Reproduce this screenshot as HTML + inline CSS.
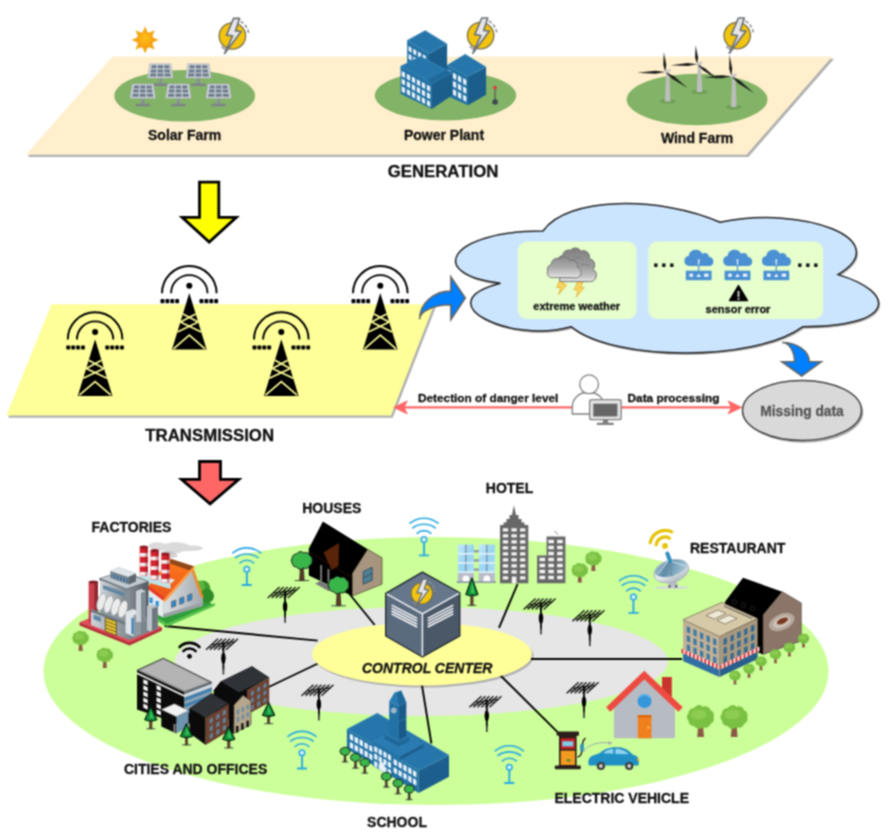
<!DOCTYPE html>
<html lang="en">
<head>
<meta charset="utf-8">
<title>Smart grid overview</title>
<style>
html,body{margin:0;padding:0;background:#fff;}
body{width:893px;height:839px;overflow:hidden;}
svg{display:block;}
svg text{font-family:"Liberation Sans",sans-serif;font-weight:bold;fill:#111;stroke:#111;stroke-width:0.3px;stroke-linejoin:round;}
</style>
</head>
<body>
<svg width="893" height="839" viewBox="0 0 893 839">
<defs><filter id="soft" x="0" y="0" width="893" height="839" filterUnits="userSpaceOnUse" color-interpolation-filters="sRGB"><feConvolveMatrix order="3" kernelMatrix="1 2 1 2 4 2 1 2 1" divisor="16" edgeMode="duplicate" preserveAlpha="false"/></filter></defs>
<g filter="url(#soft)">
<rect x="0" y="0" width="893" height="839" fill="#fff"/>
<defs><linearGradient id="glass" x1="0" y1="0" x2="1" y2="1"><stop offset="0" stop-color="#c9ecfb" stop-opacity="0.9"/><stop offset="0.5" stop-color="#8fcff0" stop-opacity="0.6"/><stop offset="1" stop-color="#bfe6f8" stop-opacity="0.9"/></linearGradient></defs>
<g id="generation">
<defs><radialGradient id="sung" cx="50%" cy="40%" r="60%"><stop offset="0" stop-color="#ffc21a"/><stop offset="1" stop-color="#f79a0c"/></radialGradient></defs>
<polygon points="114.3,58.7 834.1,58.7 748.4,156.9 27.7,156.9" fill="#b0b0b0"/>
<polygon points="112.5,56.5 832.3,56.5 746.6,154.7 25.9,154.7" fill="#ffefcc"/>
<ellipse cx="184.7" cy="95.8" rx="70.4" ry="25.8" fill="#82b366"/>
<ellipse cx="445.5" cy="95.6" rx="70.7" ry="24.8" fill="#82b366"/>
<ellipse cx="697.1" cy="99.5" rx="70.4" ry="25.7" fill="#82b366"/>
<g>
<rect x="158.8" y="77.1" width="3.2" height="7.2" fill="#8b9096"/>
<rect x="153.1" y="83.5" width="14.6" height="2.6" fill="#7d8289" rx="1"/>
<polygon points="149.8,63.7 171,63.7 173.2,78.1 147.6,78.1" fill="#ced2d7" stroke="#a9adb3" stroke-width="0.6" stroke-linejoin="round"/>
<polygon points="151.7,65.3 156.7,65.3 156.5,68.3 151.2,68.3" fill="#6a7b8c"/>
<polygon points="157.9,65.3 162.9,65.3 163.1,68.3 157.7,68.3" fill="#6a7b8c"/>
<polygon points="164.1,65.3 169.1,65.3 169.6,68.3 164.3,68.3" fill="#6a7b8c"/>
<polygon points="151,69.4 156.5,69.4 156.3,72.4 150.6,72.4" fill="#6a7b8c"/>
<polygon points="157.7,69.4 163.1,69.4 163.3,72.4 157.5,72.4" fill="#6a7b8c"/>
<polygon points="164.3,69.4 169.8,69.4 170.2,72.4 164.5,72.4" fill="#6a7b8c"/>
<polygon points="150.4,73.5 156.3,73.5 156.1,76.5 149.9,76.5" fill="#6a7b8c"/>
<polygon points="157.5,73.5 163.3,73.5 163.5,76.5 157.3,76.5" fill="#6a7b8c"/>
<polygon points="164.5,73.5 170.4,73.5 170.9,76.5 164.7,76.5" fill="#6a7b8c"/>
</g>
<g>
<rect x="196.8" y="77.1" width="3.2" height="7.2" fill="#8b9096"/>
<rect x="191.1" y="83.5" width="14.6" height="2.6" fill="#7d8289" rx="1"/>
<polygon points="187.8,63.7 209,63.7 211.2,78.1 185.6,78.1" fill="#ced2d7" stroke="#a9adb3" stroke-width="0.6" stroke-linejoin="round"/>
<polygon points="189.7,65.3 194.7,65.3 194.5,68.3 189.2,68.3" fill="#6a7b8c"/>
<polygon points="195.9,65.3 200.9,65.3 201.1,68.3 195.7,68.3" fill="#6a7b8c"/>
<polygon points="202.1,65.3 207.1,65.3 207.6,68.3 202.3,68.3" fill="#6a7b8c"/>
<polygon points="189,69.4 194.5,69.4 194.3,72.4 188.6,72.4" fill="#6a7b8c"/>
<polygon points="195.7,69.4 201.1,69.4 201.3,72.4 195.5,72.4" fill="#6a7b8c"/>
<polygon points="202.3,69.4 207.8,69.4 208.2,72.4 202.5,72.4" fill="#6a7b8c"/>
<polygon points="188.4,73.5 194.3,73.5 194.1,76.5 187.9,76.5" fill="#6a7b8c"/>
<polygon points="195.5,73.5 201.3,73.5 201.5,76.5 195.3,76.5" fill="#6a7b8c"/>
<polygon points="202.5,73.5 208.4,73.5 208.9,76.5 202.7,76.5" fill="#6a7b8c"/>
</g>
<g>
<rect x="141.2" y="97.3" width="3.2" height="7.2" fill="#8b9096"/>
<rect x="135.5" y="103.7" width="14.6" height="2.6" fill="#7d8289" rx="1"/>
<polygon points="132.2,83.9 153.4,83.9 155.6,98.3 130,98.3" fill="#ced2d7" stroke="#a9adb3" stroke-width="0.6" stroke-linejoin="round"/>
<polygon points="134.1,85.5 139.1,85.5 138.9,88.5 133.6,88.5" fill="#6a7b8c"/>
<polygon points="140.3,85.5 145.3,85.5 145.5,88.5 140.1,88.5" fill="#6a7b8c"/>
<polygon points="146.5,85.5 151.5,85.5 152,88.5 146.7,88.5" fill="#6a7b8c"/>
<polygon points="133.4,89.6 138.9,89.6 138.7,92.6 133,92.6" fill="#6a7b8c"/>
<polygon points="140.1,89.6 145.5,89.6 145.7,92.6 139.9,92.6" fill="#6a7b8c"/>
<polygon points="146.7,89.6 152.2,89.6 152.6,92.6 146.9,92.6" fill="#6a7b8c"/>
<polygon points="132.8,93.7 138.7,93.7 138.5,96.7 132.3,96.7" fill="#6a7b8c"/>
<polygon points="139.9,93.7 145.7,93.7 145.9,96.7 139.7,96.7" fill="#6a7b8c"/>
<polygon points="146.9,93.7 152.8,93.7 153.3,96.7 147.1,96.7" fill="#6a7b8c"/>
</g>
<g>
<rect x="176.8" y="97.3" width="3.2" height="7.2" fill="#8b9096"/>
<rect x="171.1" y="103.7" width="14.6" height="2.6" fill="#7d8289" rx="1"/>
<polygon points="167.8,83.9 189,83.9 191.2,98.3 165.6,98.3" fill="#ced2d7" stroke="#a9adb3" stroke-width="0.6" stroke-linejoin="round"/>
<polygon points="169.7,85.5 174.7,85.5 174.5,88.5 169.2,88.5" fill="#6a7b8c"/>
<polygon points="175.9,85.5 180.9,85.5 181.1,88.5 175.7,88.5" fill="#6a7b8c"/>
<polygon points="182.1,85.5 187.1,85.5 187.6,88.5 182.3,88.5" fill="#6a7b8c"/>
<polygon points="169,89.6 174.5,89.6 174.3,92.6 168.6,92.6" fill="#6a7b8c"/>
<polygon points="175.7,89.6 181.1,89.6 181.3,92.6 175.5,92.6" fill="#6a7b8c"/>
<polygon points="182.3,89.6 187.8,89.6 188.2,92.6 182.5,92.6" fill="#6a7b8c"/>
<polygon points="168.4,93.7 174.3,93.7 174.1,96.7 167.9,96.7" fill="#6a7b8c"/>
<polygon points="175.5,93.7 181.3,93.7 181.5,96.7 175.3,96.7" fill="#6a7b8c"/>
<polygon points="182.5,93.7 188.4,93.7 188.9,96.7 182.7,96.7" fill="#6a7b8c"/>
</g>
<g>
<rect x="217" y="97.3" width="3.2" height="7.2" fill="#8b9096"/>
<rect x="211.3" y="103.7" width="14.6" height="2.6" fill="#7d8289" rx="1"/>
<polygon points="208,83.9 229.2,83.9 231.4,98.3 205.8,98.3" fill="#ced2d7" stroke="#a9adb3" stroke-width="0.6" stroke-linejoin="round"/>
<polygon points="209.9,85.5 214.9,85.5 214.7,88.5 209.4,88.5" fill="#6a7b8c"/>
<polygon points="216.1,85.5 221.1,85.5 221.3,88.5 215.9,88.5" fill="#6a7b8c"/>
<polygon points="222.3,85.5 227.3,85.5 227.8,88.5 222.5,88.5" fill="#6a7b8c"/>
<polygon points="209.2,89.6 214.7,89.6 214.5,92.6 208.8,92.6" fill="#6a7b8c"/>
<polygon points="215.9,89.6 221.3,89.6 221.5,92.6 215.7,92.6" fill="#6a7b8c"/>
<polygon points="222.5,89.6 228,89.6 228.4,92.6 222.7,92.6" fill="#6a7b8c"/>
<polygon points="208.6,93.7 214.5,93.7 214.3,96.7 208.1,96.7" fill="#6a7b8c"/>
<polygon points="215.7,93.7 221.5,93.7 221.7,96.7 215.5,96.7" fill="#6a7b8c"/>
<polygon points="222.7,93.7 228.6,93.7 229.1,96.7 222.9,96.7" fill="#6a7b8c"/>
</g>
<g>
<polygon points="145.1,26.3 148,32.9 154.7,30.3 152.1,37 158.7,39.9 152.1,42.8 154.7,49.5 148,46.9 145.1,53.5 142.2,46.9 135.5,49.5 138.1,42.8 131.5,39.9 138.1,37 135.5,30.3 142.2,32.9" fill="#f1a91c"/>
<circle cx="145.1" cy="39.9" r="8.2" fill="url(#sung)"/>
</g>
<g>
<circle cx="232.4" cy="36" r="13.2" fill="#f2c40f" stroke="#77704a" stroke-width="1.3"/>
<path d="M240.7 21.5 A15.6 15.6 0 0 1 248.7 34.6" fill="none" stroke="#8d9399" stroke-width="1.7" stroke-dasharray="3.4 2"/>
<path d="M221.5 46.7 L226.6 50.7" fill="none" stroke="#8d9399" stroke-width="1.5"/>
<polygon points="233.6,18.4 239.5,18.4 235.5,30.9 241.2,31.5 224.6,53.6 232.7,35.9 226.5,35.1" fill="#e6e6e6" stroke="#6d7175" stroke-width="1.7" stroke-linejoin="round"/>
</g>
<g>
<polygon points="407.1,40.5 429,53.4 429,83.4 407.1,70.5" fill="#2372a5"/>
<polygon points="429,53.4 447.1,43.9 447.1,73.9 429,83.4" fill="#1b5e8c"/>
<polygon points="407.1,40.5 425.2,30.6 447.1,43.9 429,53.4" fill="#2776ab" stroke="#3a86b8" stroke-width="0.5" stroke-linejoin="round"/>
<polygon points="408.5,45.9 411.6,47.8 411.6,52.8 408.5,50.9" fill="#e8f1f8"/>
<polygon points="413.2,48.7 416.4,50.6 416.4,55.6 413.2,53.7" fill="#e8f1f8"/>
<polygon points="418,51.5 421.1,53.3 421.1,58.3 418,56.5" fill="#e8f1f8"/>
<polygon points="422.7,54.3 425.8,56.1 425.8,61.1 422.7,59.3" fill="#e8f1f8"/>
<polygon points="408.5,53.7 411.6,55.6 411.6,60.6 408.5,58.7" fill="#e8f1f8"/>
<polygon points="413.2,56.5 416.4,58.4 416.4,63.4 413.2,61.5" fill="#e8f1f8"/>
<polygon points="418,59.3 421.1,61.1 421.1,66.1 418,64.3" fill="#e8f1f8"/>
<polygon points="422.7,62.1 425.8,63.9 425.8,68.9 422.7,67.1" fill="#e8f1f8"/>
<polygon points="447,65.2 468,76.6 468,105.2 447,95.7" fill="#2372a5"/>
<polygon points="468,76.6 486.1,67.1 486.1,94.7 468,105.2" fill="#1b5e8c"/>
<polygon points="447,65.2 465.2,54.2 486.1,67.1 468,76.6" fill="#2776ab" stroke="#3a86b8" stroke-width="0.5" stroke-linejoin="round"/>
<polygon points="447.6,69.7 451,71.6 451,77.2 447.6,75.3" fill="#e8f1f8"/>
<polygon points="452.8,72.5 456.2,74.4 456.2,80 452.8,78.1" fill="#e8f1f8"/>
<polygon points="457.9,75.3 461.3,77.2 461.3,82.8 457.9,80.9" fill="#e8f1f8"/>
<polygon points="463.1,78.1 466.4,80 466.4,85.6 463.1,83.7" fill="#e8f1f8"/>
<polygon points="447.6,77.9 451,79.8 451,85.4 447.6,83.5" fill="#e8f1f8"/>
<polygon points="452.8,80.7 456.2,82.6 456.2,88.2 452.8,86.3" fill="#e8f1f8"/>
<polygon points="457.9,83.5 461.3,85.4 461.3,91 457.9,89.1" fill="#e8f1f8"/>
<polygon points="463.1,86.3 466.4,88.2 466.4,93.8 463.1,91.9" fill="#e8f1f8"/>
<polygon points="447.6,86.1 451,88 451,93.6 447.6,91.7" fill="#e8f1f8"/>
<polygon points="452.8,88.9 456.2,90.8 456.2,96.4 452.8,94.5" fill="#e8f1f8"/>
<polygon points="457.9,91.7 461.3,93.6 461.3,99.2 457.9,97.3" fill="#e8f1f8"/>
<polygon points="463.1,94.5 466.4,96.4 466.4,102 463.1,100.1" fill="#e8f1f8"/>
<polygon points="400.5,66.5 431.9,83.6 431.9,109 400.5,93.8" fill="#2372a5"/>
<polygon points="431.9,83.6 452.5,73 452.5,95 431.9,109" fill="#1b5e8c"/>
<polygon points="400.5,66.5 420.4,56.6 452.5,73 431.9,83.6" fill="#2776ab" stroke="#3a86b8" stroke-width="0.5" stroke-linejoin="round"/>
<polygon points="420.4,56.6 446,70 427.5,79.6 400.5,66.5" fill="#2776ab" stroke="#3a86b8" stroke-width="0.5" stroke-linejoin="round"/>
<polygon points="427.5,79.6 446,70 452.5,73 431.9,83.6" fill="#206a9b"/>
<polygon points="401.7,71 405,72.8 405,78 401.7,76.2" fill="#e8f1f8"/>
<polygon points="406.8,73.7 410.1,75.5 410.1,80.7 406.8,78.9" fill="#e8f1f8"/>
<polygon points="411.8,76.4 415.1,78.2 415.1,83.4 411.8,81.6" fill="#e8f1f8"/>
<polygon points="416.8,79.2 420.1,81 420.1,86.2 416.8,84.4" fill="#e8f1f8"/>
<polygon points="421.8,81.9 425.1,83.7 425.1,88.9 421.8,87.1" fill="#e8f1f8"/>
<polygon points="426.9,84.7 430.2,86.5 430.2,91.7 426.9,89.9" fill="#e8f1f8"/>
<polygon points="401.7,78.6 405,80.4 405,85.6 401.7,83.8" fill="#e8f1f8"/>
<polygon points="406.8,81.3 410.1,83.1 410.1,88.3 406.8,86.5" fill="#e8f1f8"/>
<polygon points="411.8,84 415.1,85.8 415.1,91 411.8,89.2" fill="#e8f1f8"/>
<polygon points="416.8,86.8 420.1,88.6 420.1,93.8 416.8,92" fill="#e8f1f8"/>
<polygon points="421.8,89.5 425.1,91.3 425.1,96.5 421.8,94.7" fill="#e8f1f8"/>
<polygon points="426.9,92.3 430.2,94.1 430.2,99.3 426.9,97.5" fill="#e8f1f8"/>
<polygon points="401.7,86.2 405,88 405,93.2 401.7,91.4" fill="#e8f1f8"/>
<polygon points="406.8,88.9 410.1,90.7 410.1,95.9 406.8,94.1" fill="#e8f1f8"/>
<polygon points="411.8,91.6 415.1,93.4 415.1,98.6 411.8,96.8" fill="#e8f1f8"/>
<polygon points="416.8,94.4 420.1,96.2 420.1,101.4 416.8,99.6" fill="#e8f1f8"/>
<polygon points="421.8,97.1 425.1,98.9 425.1,104.1 421.8,102.3" fill="#e8f1f8"/>
<polygon points="426.9,99.9 430.2,101.7 430.2,106.9 426.9,105.1" fill="#e8f1f8"/>
<rect x="494.5" y="88" width="1.2" height="13" fill="#555"/>
<circle cx="495.1" cy="87.6" r="1.8" fill="#e8323c"/>
<circle cx="495.1" cy="102" r="2.8" fill="#3d4650"/>
</g>
<g>
<circle cx="480.6" cy="35.6" r="13.2" fill="#f2c40f" stroke="#77704a" stroke-width="1.3"/>
<path d="M488.9 21.1 A15.6 15.6 0 0 1 496.9 34.2" fill="none" stroke="#8d9399" stroke-width="1.7" stroke-dasharray="3.4 2"/>
<path d="M469.7 46.3 L474.8 50.3" fill="none" stroke="#8d9399" stroke-width="1.5"/>
<polygon points="481.8,18 487.7,18 483.7,30.5 489.4,31.1 472.8,53.2 480.9,35.5 474.7,34.7" fill="#e6e6e6" stroke="#6d7175" stroke-width="1.7" stroke-linejoin="round"/>
</g>
<g>
<ellipse cx="699.5" cy="91.9" rx="8" ry="2.4" fill="#6f9f58"/>
<polygon points="698,64.3 701,64.3 702.3,91.9 696.7,91.9" fill="#bdbdbd"/>
<polygon points="697.1,64.3 698.1,57.5 695.6,45.2 695.1,57.7" fill="#1c1c1c"/>
<polygon points="697.1,64.3 687.7,63.1 670.4,65.2 687.8,66.1" fill="#1c1c1c"/>
<polygon points="697.1,64.3 703.5,70.8 718,79.5 705.3,68.4" fill="#1c1c1c"/>
<polygon points="696.1,62.8 702.1,61.3 702.6,63.3 696.6,65.8" fill="#c9c9c9"/>
</g>
<g>
<ellipse cx="667.7" cy="101.4" rx="8" ry="2.4" fill="#6f9f58"/>
<polygon points="666.2,71.9 669.2,71.9 670.5,101.4 664.9,101.4" fill="#bdbdbd"/>
<polygon points="665.3,71.9 666.3,64.8 663.8,51.9 663.3,65" fill="#1c1c1c"/>
<polygon points="665.3,71.9 655.4,70.7 637.1,72.8 655.5,73.7" fill="#1c1c1c"/>
<polygon points="665.3,71.9 672.2,78.8 687.6,88 674,76.3" fill="#1c1c1c"/>
<polygon points="664.3,70.4 670.3,68.9 670.8,70.9 664.8,73.4" fill="#c9c9c9"/>
</g>
<g>
<ellipse cx="733.8" cy="107.1" rx="8" ry="2.4" fill="#6f9f58"/>
<polygon points="732.3,76.2 735.3,76.2 736.6,107.1 731,107.1" fill="#bdbdbd"/>
<polygon points="731.4,76.2 732.2,68.5 729.5,54.7 729.2,68.8" fill="#1c1c1c"/>
<polygon points="731.4,76.2 721.7,75.2 703.8,77.6 721.8,78.2" fill="#1c1c1c"/>
<polygon points="731.4,76.2 738.5,83.4 754.2,93.2 740.3,80.9" fill="#1c1c1c"/>
<polygon points="730.4,74.7 736.4,73.2 736.9,75.2 730.9,77.7" fill="#c9c9c9"/>
</g>
<g>
<circle cx="737.2" cy="35.6" r="13.2" fill="#f2c40f" stroke="#77704a" stroke-width="1.3"/>
<path d="M745.5 21.1 A15.6 15.6 0 0 1 753.5 34.2" fill="none" stroke="#8d9399" stroke-width="1.7" stroke-dasharray="3.4 2"/>
<path d="M726.3 46.3 L731.4 50.3" fill="none" stroke="#8d9399" stroke-width="1.5"/>
<polygon points="738.4,18 744.3,18 740.3,30.5 746,31.1 729.4,53.2 737.5,35.5 731.3,34.7" fill="#e6e6e6" stroke="#6d7175" stroke-width="1.7" stroke-linejoin="round"/>
</g>
<text x="184.6" y="140.4" font-size="14" text-anchor="middle">Solar Farm</text>
<text x="444" y="140.4" font-size="14" text-anchor="middle">Power Plant</text>
<text x="697" y="142.8" font-size="14" text-anchor="middle">Wind Farm</text>
<text x="443" y="176.6" font-size="16.8" text-anchor="middle">GENERATION</text>
</g>
<g id="transmission">
<polygon points="199.5,182.1 218.8,182.1 218.8,217.3 236.3,217.3 209.2,242 182.2,217.3 199.5,217.3" fill="#ffff00" stroke="#000" stroke-width="2.8" stroke-linejoin="miter"/>
<polygon points="53.3,306.5 436.1,306.5 392.8,417.8 8.2,417.8" fill="#b0b0b0"/>
<polygon points="51.5,304.3 434.3,304.3 391,415.6 6.4,415.6" fill="#ffff99"/>
<g>
<path d="M67.8 339.6 A27.3 27.3 0 0 1 122.4 339.6" fill="none" stroke="#000" stroke-width="1.9"/>
<path d="M76.9 339.6 A18.2 18.2 0 0 1 113.3 339.6" fill="none" stroke="#000" stroke-width="1.9"/>
<circle cx="95.1" cy="332" r="3" fill="#000"/>
<rect x="81" y="345.4" width="3.9" height="4.1" fill="#000" rx="0.9"/>
<rect x="76.1" y="345.4" width="3.9" height="4.1" fill="#000" rx="0.9"/>
<rect x="71.2" y="345.4" width="3.9" height="4.1" fill="#000" rx="0.9"/>
<rect x="66.3" y="345.4" width="3.9" height="4.1" fill="#000" rx="0.9"/>
<rect x="105.3" y="345.4" width="3.9" height="4.1" fill="#000" rx="0.9"/>
<rect x="110.2" y="345.4" width="3.9" height="4.1" fill="#000" rx="0.9"/>
<rect x="115.1" y="345.4" width="3.9" height="4.1" fill="#000" rx="0.9"/>
<rect x="120" y="345.4" width="3.9" height="4.1" fill="#000" rx="0.9"/>
<polygon points="95.1,339.3 112.4,395.9 77.8,395.9" fill="#000"/>
<line x1="88.7" y1="360.2" x2="104" y2="368.4" stroke="#ffff99" stroke-width="1.7"/>
<line x1="101.5" y1="360.2" x2="86.2" y2="368.4" stroke="#ffff99" stroke-width="1.7"/>
<line x1="86.2" y1="368.4" x2="107" y2="378.2" stroke="#ffff99" stroke-width="1.7"/>
<line x1="104" y1="368.4" x2="83.2" y2="378.2" stroke="#ffff99" stroke-width="1.7"/>
<path d="M79.3 395.1 L95.1 381.5 L110.9 395.1" fill="none" stroke="#ffff99" stroke-width="1.7"/>
</g>
<g>
<path d="M162 293.3 A27.3 27.3 0 0 1 216.6 293.3" fill="none" stroke="#000" stroke-width="1.9"/>
<path d="M171.1 293.3 A18.2 18.2 0 0 1 207.5 293.3" fill="none" stroke="#000" stroke-width="1.9"/>
<circle cx="189.3" cy="285.7" r="3" fill="#000"/>
<rect x="175.2" y="299.1" width="3.9" height="4.1" fill="#000" rx="0.9"/>
<rect x="170.3" y="299.1" width="3.9" height="4.1" fill="#000" rx="0.9"/>
<rect x="165.4" y="299.1" width="3.9" height="4.1" fill="#000" rx="0.9"/>
<rect x="160.5" y="299.1" width="3.9" height="4.1" fill="#000" rx="0.9"/>
<rect x="199.5" y="299.1" width="3.9" height="4.1" fill="#000" rx="0.9"/>
<rect x="204.4" y="299.1" width="3.9" height="4.1" fill="#000" rx="0.9"/>
<rect x="209.3" y="299.1" width="3.9" height="4.1" fill="#000" rx="0.9"/>
<rect x="214.2" y="299.1" width="3.9" height="4.1" fill="#000" rx="0.9"/>
<polygon points="189.3,293 206.6,349.6 172,349.6" fill="#000"/>
<line x1="182.9" y1="313.9" x2="198.2" y2="322.1" stroke="#ffff99" stroke-width="1.7"/>
<line x1="195.7" y1="313.9" x2="180.4" y2="322.1" stroke="#ffff99" stroke-width="1.7"/>
<line x1="180.4" y1="322.1" x2="201.2" y2="331.9" stroke="#ffff99" stroke-width="1.7"/>
<line x1="198.2" y1="322.1" x2="177.4" y2="331.9" stroke="#ffff99" stroke-width="1.7"/>
<path d="M173.5 348.8 L189.3 335.2 L205.1 348.8" fill="none" stroke="#ffff99" stroke-width="1.7"/>
</g>
<g>
<path d="M254 339.6 A27.3 27.3 0 0 1 308.6 339.6" fill="none" stroke="#000" stroke-width="1.9"/>
<path d="M263.1 339.6 A18.2 18.2 0 0 1 299.5 339.6" fill="none" stroke="#000" stroke-width="1.9"/>
<circle cx="281.3" cy="332" r="3" fill="#000"/>
<rect x="267.2" y="345.4" width="3.9" height="4.1" fill="#000" rx="0.9"/>
<rect x="262.3" y="345.4" width="3.9" height="4.1" fill="#000" rx="0.9"/>
<rect x="257.4" y="345.4" width="3.9" height="4.1" fill="#000" rx="0.9"/>
<rect x="252.5" y="345.4" width="3.9" height="4.1" fill="#000" rx="0.9"/>
<rect x="291.5" y="345.4" width="3.9" height="4.1" fill="#000" rx="0.9"/>
<rect x="296.4" y="345.4" width="3.9" height="4.1" fill="#000" rx="0.9"/>
<rect x="301.3" y="345.4" width="3.9" height="4.1" fill="#000" rx="0.9"/>
<rect x="306.2" y="345.4" width="3.9" height="4.1" fill="#000" rx="0.9"/>
<polygon points="281.3,339.3 298.6,395.9 264,395.9" fill="#000"/>
<line x1="274.9" y1="360.2" x2="290.2" y2="368.4" stroke="#ffff99" stroke-width="1.7"/>
<line x1="287.7" y1="360.2" x2="272.4" y2="368.4" stroke="#ffff99" stroke-width="1.7"/>
<line x1="272.4" y1="368.4" x2="293.2" y2="378.2" stroke="#ffff99" stroke-width="1.7"/>
<line x1="290.2" y1="368.4" x2="269.4" y2="378.2" stroke="#ffff99" stroke-width="1.7"/>
<path d="M265.5 395.1 L281.3 381.5 L297.1 395.1" fill="none" stroke="#ffff99" stroke-width="1.7"/>
</g>
<g>
<path d="M353 293.3 A27.3 27.3 0 0 1 407.6 293.3" fill="none" stroke="#000" stroke-width="1.9"/>
<path d="M362.1 293.3 A18.2 18.2 0 0 1 398.5 293.3" fill="none" stroke="#000" stroke-width="1.9"/>
<circle cx="380.3" cy="285.7" r="3" fill="#000"/>
<rect x="366.2" y="299.1" width="3.9" height="4.1" fill="#000" rx="0.9"/>
<rect x="361.3" y="299.1" width="3.9" height="4.1" fill="#000" rx="0.9"/>
<rect x="356.4" y="299.1" width="3.9" height="4.1" fill="#000" rx="0.9"/>
<rect x="351.5" y="299.1" width="3.9" height="4.1" fill="#000" rx="0.9"/>
<rect x="390.5" y="299.1" width="3.9" height="4.1" fill="#000" rx="0.9"/>
<rect x="395.4" y="299.1" width="3.9" height="4.1" fill="#000" rx="0.9"/>
<rect x="400.3" y="299.1" width="3.9" height="4.1" fill="#000" rx="0.9"/>
<rect x="405.2" y="299.1" width="3.9" height="4.1" fill="#000" rx="0.9"/>
<polygon points="380.3,293 397.6,349.6 363,349.6" fill="#000"/>
<line x1="373.9" y1="313.9" x2="389.2" y2="322.1" stroke="#ffff99" stroke-width="1.7"/>
<line x1="386.7" y1="313.9" x2="371.4" y2="322.1" stroke="#ffff99" stroke-width="1.7"/>
<line x1="371.4" y1="322.1" x2="392.2" y2="331.9" stroke="#ffff99" stroke-width="1.7"/>
<line x1="389.2" y1="322.1" x2="368.4" y2="331.9" stroke="#ffff99" stroke-width="1.7"/>
<path d="M364.5 348.8 L380.3 335.2 L396.1 348.8" fill="none" stroke="#ffff99" stroke-width="1.7"/>
</g>
<text x="209.7" y="440.8" font-size="16.8" text-anchor="middle">TRANSMISSION</text>
<polygon points="199.5,461.5 220.5,461.5 220.5,479.3 238.8,479.3 210.1,503.9 181.5,479.3 199.5,479.3" fill="#ff6666" stroke="#000" stroke-width="2.8" stroke-linejoin="miter"/>
<path d="M450.9 276.9 L465.3 298 L450.9 319.5 L450.9 304.8 A31.3 14.4 0 0 0 419.6 319.2 A31.3 28.1 0 0 1 450.9 291.1 Z" fill="#007fff" stroke="#666" stroke-width="1.6" stroke-linejoin="miter"/>
<path d="M544.5 233 C450.1 233 426.5 276.6 502 285.3 C426.5 304.4 511.5 346.3 572.8 328.8 C615.3 363.7 756.9 363.7 804.1 328.8 C898.5 328.8 898.5 294 839.5 276.6 C898.5 241.7 804.1 206.8 721.5 224.3 C662.5 198.1 568.1 198.1 544.5 233 Z" fill="#b8b8b8"/>
<path d="M543 231 C448.6 231 425 274.6 500.5 283.3 C425 302.4 510 344.3 571.3 326.8 C613.8 361.7 755.4 361.7 802.6 326.8 C897 326.8 897 292 838 274.6 C897 239.7 802.6 204.8 720 222.3 C661 196.1 566.6 196.1 543 231 Z" fill="#cce5ff" stroke="#222" stroke-width="1.5"/>
<rect x="517.8" y="241.6" width="118.8" height="77.3" fill="#e6ffcc" rx="9"/>
<rect x="648.3" y="241.6" width="174.9" height="77.3" fill="#e6ffcc" rx="9"/>
<g>
<defs><linearGradient id="cg" x1="0" y1="0" x2="0" y2="1"><stop offset="0" stop-color="#7f7f7f"/><stop offset="0.55" stop-color="#9c9c9c"/><stop offset="0.85" stop-color="#c4c4c4"/><stop offset="1" stop-color="#e6e6e6"/></linearGradient><linearGradient id="cg2" x1="0" y1="0" x2="0" y2="1"><stop offset="0" stop-color="#8c8c8c"/><stop offset="0.5" stop-color="#a9a9a9"/><stop offset="0.85" stop-color="#d2d2d2"/><stop offset="1" stop-color="#efefef"/></linearGradient></defs>
<polygon points="560.2,279 565.6,279 563.2,284.8 566.8,284.8 558.6,294.6 560.6,287.4 556.6,287.4" fill="#f8d560" stroke="#e3a826" stroke-width="0.7" stroke-linejoin="round"/>
<polygon points="577.7,281.6 583.1,281.6 580.7,287.4 584.3,287.4 576.1,297.2 578.1,290 574.1,290" fill="#f8d560" stroke="#e3a826" stroke-width="0.7" stroke-linejoin="round"/>
<path d="M560 281.6 H589.5 A6.4 6.4 0 0 0 593 269.6 A6.6 6.6 0 0 0 589.3 258.6 A6.2 6.2 0 0 0 580.8 251.2 A6.2 6.2 0 0 0 570.6 250.2 A6.2 6.2 0 0 0 562.6 255.6 A6 6 0 0 0 557.6 264 Z" fill="url(#cg)" stroke="#6a6a6a" stroke-width="0.9"/>
<path d="M572 262 A6 6 0 0 1 582.5 259.5 M581 266 A6 6 0 0 1 590 266.5" fill="none" stroke="#6f6f6f" stroke-width="0.8" opacity="0.7"/>
<path d="M551.6 277.6 H574 A5.4 5.4 0 0 0 577.6 267.4 A5.6 5.6 0 0 0 569.8 260.8 A5.8 5.8 0 0 0 559.6 259 A5.6 5.6 0 0 0 551.4 264.4 A5.2 5.2 0 0 0 547.6 271.2 A4.6 4.6 0 0 0 551.6 277.6 Z" fill="url(#cg2)" stroke="#707070" stroke-width="0.9"/>
</g>
<text x="576.7" y="310" font-size="11" text-anchor="middle">extreme weather</text>
<g>
<path d="M689.3 266 a5 5 0 0 1 -0.6 -9.95 a7.2 7.2 0 0 1 13.6 -2.3 a4.3 4.3 0 0 1 6.8 3.2 a4.6 4.6 0 0 1 0.8 9.05 Z" fill="#4a90d2"/>
<rect x="698.1" y="265" width="1.2" height="6" fill="#4a90d2"/>
<rect x="685.8" y="270.7" width="25.8" height="9.5" fill="#4a90d2"/>
<rect x="689.4" y="273.6" width="3.6" height="3.2" fill="#eaf3fb"/>
<polygon points="696.4,277 698.7,273.4 701,277" fill="#eaf3fb"/>
<rect x="704.1" y="273.6" width="4.4" height="3.2" fill="#eaf3fb"/>
<polygon points="697.8,259.3 699.6,259.3 699.2,265 698.2,265" fill="#dfeaf6"/>
</g>
<g>
<path d="M728.1 266 a5 5 0 0 1 -0.6 -9.95 a7.2 7.2 0 0 1 13.6 -2.3 a4.3 4.3 0 0 1 6.8 3.2 a4.6 4.6 0 0 1 0.8 9.05 Z" fill="#4a90d2"/>
<rect x="736.9" y="265" width="1.2" height="6" fill="#4a90d2"/>
<rect x="724.6" y="270.7" width="25.8" height="9.5" fill="#4a90d2"/>
<rect x="728.2" y="273.6" width="3.6" height="3.2" fill="#eaf3fb"/>
<polygon points="735.2,277 737.5,273.4 739.8,277" fill="#eaf3fb"/>
<rect x="742.9" y="273.6" width="4.4" height="3.2" fill="#eaf3fb"/>
<polygon points="736.6,259.3 738.4,259.3 738,265 737,265" fill="#dfeaf6"/>
</g>
<g>
<path d="M766.9 266 a5 5 0 0 1 -0.6 -9.95 a7.2 7.2 0 0 1 13.6 -2.3 a4.3 4.3 0 0 1 6.8 3.2 a4.6 4.6 0 0 1 0.8 9.05 Z" fill="#4a90d2"/>
<rect x="775.7" y="265" width="1.2" height="6" fill="#4a90d2"/>
<rect x="763.4" y="270.7" width="25.8" height="9.5" fill="#4a90d2"/>
<rect x="767" y="273.6" width="3.6" height="3.2" fill="#eaf3fb"/>
<polygon points="774,277 776.3,273.4 778.6,277" fill="#eaf3fb"/>
<rect x="781.7" y="273.6" width="4.4" height="3.2" fill="#eaf3fb"/>
<polygon points="775.4,259.3 777.2,259.3 776.8,265 775.8,265" fill="#dfeaf6"/>
</g>
<text x="652.5" y="266.9" font-size="24" letter-spacing="1.3" style="stroke-width:0">...</text>
<text x="796.5" y="266.9" font-size="24" letter-spacing="1.3" style="stroke-width:0">...</text>
<g>
<polygon points="738.5,285.5 747.5,300.6 729.5,300.6" fill="#000" stroke="#000" stroke-width="1.4" stroke-linejoin="round"/>
<rect x="737.6" y="290.9" width="1.8" height="6.2" fill="#d8d8d8"/>
<rect x="737.6" y="298.1" width="1.8" height="1.8" fill="#d8d8d8"/>
</g>
<text x="738" y="313.1" font-size="11" text-anchor="middle">sensor error</text>
<path d="M821.6 361.7 L801.7 375.9 L781.8 361.7 L794.6 361.7 A12.5 19.2 0 0 0 782.1 342.5 A27.1 19.2 0 0 1 809.2 361.7 Z" fill="#007fff" stroke="#666" stroke-width="1.6" stroke-linejoin="miter"/>
<ellipse cx="803.8" cy="412.8" rx="59.5" ry="30" fill="#b0b0b0"/>
<ellipse cx="802" cy="410.4" rx="59.5" ry="30" fill="#d9d9d9" stroke="#444" stroke-width="1.5"/>
<text x="802" y="415.5" font-size="13.8" text-anchor="middle" style="fill:#555;stroke:#555">Missing data</text>
<line x1="400" y1="407.4" x2="736" y2="407.4" stroke="#ff6666" stroke-width="2.4"/>
<polygon points="393.8,407.4 407.2,401 403.9,407.4 407.2,413.8" fill="#ff6666" stroke="#ff6666" stroke-width="1" stroke-linejoin="round"/>
<polygon points="741.6,407.4 728.2,401 731.5,407.4 728.2,413.8" fill="#ff6666" stroke="#ff6666" stroke-width="1" stroke-linejoin="round"/>
<g>
<path d="M572.3 414 V407 A14.5 14.5 0 0 1 586.8 392.5 H590 A14.5 14.5 0 0 1 604.5 407 V414 Z" fill="#fff" stroke="#808080" stroke-width="1.3"/>
<circle cx="589.1" cy="384.3" r="9.4" fill="#fff" stroke="#808080" stroke-width="1.3"/>
<rect x="602.9" y="419.5" width="5.2" height="3.6" fill="#808080"/>
<rect x="596.7" y="422.7" width="17.2" height="2.3" fill="#808080" rx="1"/>
<rect x="589.6" y="399.7" width="31.6" height="20" fill="#e3e3e3" rx="2.2" stroke="#808080" stroke-width="1.3"/>
<rect x="593.3" y="403.7" width="24.1" height="12.8" fill="#666"/>
</g>
<text x="418" y="401.8" font-size="11.8">Detection of danger level</text>
<text x="627.6" y="401.8" font-size="11.8">Data processing</text>
</g>
<g id="ground">
<ellipse cx="436" cy="671" rx="392.5" ry="134" fill="#ccff99"/>
<ellipse cx="421.5" cy="661.5" rx="246.5" ry="54.5" fill="#e6e6e6"/>
<ellipse cx="423.6" cy="656" rx="110" ry="31.5" fill="#b0b0b0"/>
<line x1="317.6" y1="640.6" x2="164.6" y2="626" stroke="#000" stroke-width="1.9"/>
<line x1="374.7" y1="625" x2="349.5" y2="594" stroke="#000" stroke-width="1.9"/>
<line x1="319" y1="663" x2="268.7" y2="687" stroke="#000" stroke-width="1.9"/>
<line x1="499" y1="627.8" x2="517.6" y2="584" stroke="#000" stroke-width="1.9"/>
<line x1="531" y1="659" x2="682" y2="659" stroke="#000" stroke-width="1.9"/>
<line x1="422" y1="685.3" x2="431.4" y2="743.5" stroke="#000" stroke-width="1.9"/>
<line x1="500" y1="675" x2="557.8" y2="732.4" stroke="#000" stroke-width="1.9"/>
<ellipse cx="422" cy="654" rx="110" ry="31.5" fill="#ffff99"/>
</g>
<g>
<path d="M232.8 552.9 A22.1 22.1 0 0 1 260.8 552.9" fill="none" stroke="#29a9e1" stroke-width="1.6" stroke-linecap="round"/>
<path d="M235.5 557.6 A19.5 19.5 0 0 1 258.1 557.6" fill="none" stroke="#29a9e1" stroke-width="1.6" stroke-linecap="round"/>
<path d="M239.9 563 A10.2 10.2 0 0 1 253.7 563" fill="none" stroke="#29a9e1" stroke-width="1.6" stroke-linecap="round"/>
<circle cx="246.8" cy="569.3" r="2.8" fill="#d8f0fb" stroke="#29a9e1" stroke-width="1.5"/>
<rect x="245.9" y="572.3" width="1.9" height="12.4" fill="#29a9e1"/>
<rect x="241.6" y="584.1" width="10.4" height="1.9" fill="#29a9e1" rx="0.9"/>
</g>
<g>
<path d="M410 523.2 A22.1 22.1 0 0 1 438 523.2" fill="none" stroke="#29a9e1" stroke-width="1.6" stroke-linecap="round"/>
<path d="M412.7 527.9 A19.5 19.5 0 0 1 435.3 527.9" fill="none" stroke="#29a9e1" stroke-width="1.6" stroke-linecap="round"/>
<path d="M417.1 533.3 A10.2 10.2 0 0 1 430.9 533.3" fill="none" stroke="#29a9e1" stroke-width="1.6" stroke-linecap="round"/>
<circle cx="424" cy="539.6" r="2.8" fill="#d8f0fb" stroke="#29a9e1" stroke-width="1.5"/>
<rect x="423.1" y="542.6" width="1.9" height="12.4" fill="#29a9e1"/>
<rect x="418.8" y="554.4" width="10.4" height="1.9" fill="#29a9e1" rx="0.9"/>
</g>
<g>
<path d="M619.5 580.7 A22.1 22.1 0 0 1 647.5 580.7" fill="none" stroke="#29a9e1" stroke-width="1.6" stroke-linecap="round"/>
<path d="M622.2 585.4 A19.5 19.5 0 0 1 644.8 585.4" fill="none" stroke="#29a9e1" stroke-width="1.6" stroke-linecap="round"/>
<path d="M626.6 590.8 A10.2 10.2 0 0 1 640.4 590.8" fill="none" stroke="#29a9e1" stroke-width="1.6" stroke-linecap="round"/>
<circle cx="633.5" cy="597.1" r="2.8" fill="#d8f0fb" stroke="#29a9e1" stroke-width="1.5"/>
<rect x="632.5" y="600.1" width="1.9" height="12.4" fill="#29a9e1"/>
<rect x="628.3" y="611.9" width="10.4" height="1.9" fill="#29a9e1" rx="0.9"/>
</g>
<g>
<path d="M288 736.4 A22.1 22.1 0 0 1 316 736.4" fill="none" stroke="#29a9e1" stroke-width="1.6" stroke-linecap="round"/>
<path d="M290.7 741.1 A19.5 19.5 0 0 1 313.3 741.1" fill="none" stroke="#29a9e1" stroke-width="1.6" stroke-linecap="round"/>
<path d="M295.1 746.5 A10.2 10.2 0 0 1 308.9 746.5" fill="none" stroke="#29a9e1" stroke-width="1.6" stroke-linecap="round"/>
<circle cx="302" cy="752.8" r="2.8" fill="#d8f0fb" stroke="#29a9e1" stroke-width="1.5"/>
<rect x="301.1" y="755.8" width="1.9" height="12.4" fill="#29a9e1"/>
<rect x="296.8" y="767.6" width="10.4" height="1.9" fill="#29a9e1" rx="0.9"/>
</g>
<g>
<path d="M495.3 750.8 A22.1 22.1 0 0 1 523.3 750.8" fill="none" stroke="#29a9e1" stroke-width="1.6" stroke-linecap="round"/>
<path d="M498 755.5 A19.5 19.5 0 0 1 520.6 755.5" fill="none" stroke="#29a9e1" stroke-width="1.6" stroke-linecap="round"/>
<path d="M502.4 760.9 A10.2 10.2 0 0 1 516.2 760.9" fill="none" stroke="#29a9e1" stroke-width="1.6" stroke-linecap="round"/>
<circle cx="509.3" cy="767.2" r="2.8" fill="#d8f0fb" stroke="#29a9e1" stroke-width="1.5"/>
<rect x="508.4" y="770.2" width="1.9" height="12.4" fill="#29a9e1"/>
<rect x="504.1" y="782" width="10.4" height="1.9" fill="#29a9e1" rx="0.9"/>
</g>
<g>
<line x1="267.7" y1="598" x2="279.7" y2="587" stroke="#000" stroke-width="1.4" opacity="0.9"/>
<line x1="271.7" y1="598" x2="283.7" y2="587" stroke="#000" stroke-width="1.4" opacity="0.9"/>
<line x1="275.7" y1="598" x2="287.7" y2="587" stroke="#000" stroke-width="1.4" opacity="0.9"/>
<line x1="279.7" y1="598" x2="291.7" y2="587" stroke="#000" stroke-width="1.4" opacity="0.9"/>
<line x1="283.7" y1="598" x2="295.7" y2="587" stroke="#000" stroke-width="1.4" opacity="0.9"/>
<line x1="287.7" y1="598" x2="299.7" y2="587" stroke="#000" stroke-width="1.4" opacity="0.9"/>
<line x1="273.6" y1="593.2" x2="296.6" y2="590.2" stroke="#000" stroke-width="1.2" opacity="0.85"/>
<line x1="270.6" y1="595.8" x2="293.6" y2="592.8" stroke="#000" stroke-width="1.1" opacity="0.7"/>
<rect x="284.2" y="590.8" width="1.8" height="27" fill="#000"/>
<ellipse cx="285.1" cy="606.6" rx="2.2" ry="5.6" fill="#000"/>
<rect x="284.3" y="615.8" width="1.6" height="7" fill="#333"/>
</g>
<g>
<line x1="206" y1="649.7" x2="218" y2="638.7" stroke="#000" stroke-width="1.4" opacity="0.9"/>
<line x1="210" y1="649.7" x2="222" y2="638.7" stroke="#000" stroke-width="1.4" opacity="0.9"/>
<line x1="214" y1="649.7" x2="226" y2="638.7" stroke="#000" stroke-width="1.4" opacity="0.9"/>
<line x1="218" y1="649.7" x2="230" y2="638.7" stroke="#000" stroke-width="1.4" opacity="0.9"/>
<line x1="222" y1="649.7" x2="234" y2="638.7" stroke="#000" stroke-width="1.4" opacity="0.9"/>
<line x1="226" y1="649.7" x2="238" y2="638.7" stroke="#000" stroke-width="1.4" opacity="0.9"/>
<line x1="211.9" y1="644.9" x2="234.9" y2="641.9" stroke="#000" stroke-width="1.2" opacity="0.85"/>
<line x1="208.9" y1="647.5" x2="231.9" y2="644.5" stroke="#000" stroke-width="1.1" opacity="0.7"/>
<rect x="222.5" y="642.5" width="1.8" height="27" fill="#000"/>
<ellipse cx="223.4" cy="658.3" rx="2.2" ry="5.6" fill="#000"/>
<rect x="222.6" y="667.5" width="1.6" height="7" fill="#333"/>
</g>
<g>
<line x1="301.5" y1="695.7" x2="313.5" y2="684.7" stroke="#000" stroke-width="1.4" opacity="0.9"/>
<line x1="305.5" y1="695.7" x2="317.5" y2="684.7" stroke="#000" stroke-width="1.4" opacity="0.9"/>
<line x1="309.5" y1="695.7" x2="321.5" y2="684.7" stroke="#000" stroke-width="1.4" opacity="0.9"/>
<line x1="313.5" y1="695.7" x2="325.5" y2="684.7" stroke="#000" stroke-width="1.4" opacity="0.9"/>
<line x1="317.5" y1="695.7" x2="329.5" y2="684.7" stroke="#000" stroke-width="1.4" opacity="0.9"/>
<line x1="321.5" y1="695.7" x2="333.5" y2="684.7" stroke="#000" stroke-width="1.4" opacity="0.9"/>
<line x1="307.4" y1="690.9" x2="330.4" y2="687.9" stroke="#000" stroke-width="1.2" opacity="0.85"/>
<line x1="304.4" y1="693.5" x2="327.4" y2="690.5" stroke="#000" stroke-width="1.1" opacity="0.7"/>
<rect x="318" y="688.5" width="1.8" height="27" fill="#000"/>
<ellipse cx="318.9" cy="704.3" rx="2.2" ry="5.6" fill="#000"/>
<rect x="318.1" y="713.5" width="1.6" height="7" fill="#333"/>
</g>
<g>
<line x1="523.6" y1="609.6" x2="535.6" y2="598.6" stroke="#000" stroke-width="1.4" opacity="0.9"/>
<line x1="527.6" y1="609.6" x2="539.6" y2="598.6" stroke="#000" stroke-width="1.4" opacity="0.9"/>
<line x1="531.6" y1="609.6" x2="543.6" y2="598.6" stroke="#000" stroke-width="1.4" opacity="0.9"/>
<line x1="535.6" y1="609.6" x2="547.6" y2="598.6" stroke="#000" stroke-width="1.4" opacity="0.9"/>
<line x1="539.6" y1="609.6" x2="551.6" y2="598.6" stroke="#000" stroke-width="1.4" opacity="0.9"/>
<line x1="543.6" y1="609.6" x2="555.6" y2="598.6" stroke="#000" stroke-width="1.4" opacity="0.9"/>
<line x1="529.5" y1="604.8" x2="552.5" y2="601.8" stroke="#000" stroke-width="1.2" opacity="0.85"/>
<line x1="526.5" y1="607.4" x2="549.5" y2="604.4" stroke="#000" stroke-width="1.1" opacity="0.7"/>
<rect x="540.1" y="602.4" width="1.8" height="27" fill="#000"/>
<ellipse cx="541" cy="618.2" rx="2.2" ry="5.6" fill="#000"/>
<rect x="540.2" y="627.4" width="1.6" height="7" fill="#333"/>
</g>
<g>
<line x1="572.4" y1="621.3" x2="584.4" y2="610.3" stroke="#000" stroke-width="1.4" opacity="0.9"/>
<line x1="576.4" y1="621.3" x2="588.4" y2="610.3" stroke="#000" stroke-width="1.4" opacity="0.9"/>
<line x1="580.4" y1="621.3" x2="592.4" y2="610.3" stroke="#000" stroke-width="1.4" opacity="0.9"/>
<line x1="584.4" y1="621.3" x2="596.4" y2="610.3" stroke="#000" stroke-width="1.4" opacity="0.9"/>
<line x1="588.4" y1="621.3" x2="600.4" y2="610.3" stroke="#000" stroke-width="1.4" opacity="0.9"/>
<line x1="592.4" y1="621.3" x2="604.4" y2="610.3" stroke="#000" stroke-width="1.4" opacity="0.9"/>
<line x1="578.3" y1="616.5" x2="601.3" y2="613.5" stroke="#000" stroke-width="1.2" opacity="0.85"/>
<line x1="575.3" y1="619.1" x2="598.3" y2="616.1" stroke="#000" stroke-width="1.1" opacity="0.7"/>
<rect x="588.9" y="614.1" width="1.8" height="27" fill="#000"/>
<ellipse cx="589.8" cy="629.9" rx="2.2" ry="5.6" fill="#000"/>
<rect x="589" y="639.1" width="1.6" height="7" fill="#333"/>
</g>
<g>
<line x1="469.4" y1="707.2" x2="481.4" y2="696.2" stroke="#000" stroke-width="1.4" opacity="0.9"/>
<line x1="473.4" y1="707.2" x2="485.4" y2="696.2" stroke="#000" stroke-width="1.4" opacity="0.9"/>
<line x1="477.4" y1="707.2" x2="489.4" y2="696.2" stroke="#000" stroke-width="1.4" opacity="0.9"/>
<line x1="481.4" y1="707.2" x2="493.4" y2="696.2" stroke="#000" stroke-width="1.4" opacity="0.9"/>
<line x1="485.4" y1="707.2" x2="497.4" y2="696.2" stroke="#000" stroke-width="1.4" opacity="0.9"/>
<line x1="489.4" y1="707.2" x2="501.4" y2="696.2" stroke="#000" stroke-width="1.4" opacity="0.9"/>
<line x1="475.3" y1="702.4" x2="498.3" y2="699.4" stroke="#000" stroke-width="1.2" opacity="0.85"/>
<line x1="472.3" y1="705" x2="495.3" y2="702" stroke="#000" stroke-width="1.1" opacity="0.7"/>
<rect x="485.9" y="700" width="1.8" height="27" fill="#000"/>
<ellipse cx="486.8" cy="715.8" rx="2.2" ry="5.6" fill="#000"/>
<rect x="486" y="725" width="1.6" height="7" fill="#333"/>
</g>
<g>
<line x1="566.6" y1="693.2" x2="578.6" y2="682.2" stroke="#000" stroke-width="1.4" opacity="0.9"/>
<line x1="570.6" y1="693.2" x2="582.6" y2="682.2" stroke="#000" stroke-width="1.4" opacity="0.9"/>
<line x1="574.6" y1="693.2" x2="586.6" y2="682.2" stroke="#000" stroke-width="1.4" opacity="0.9"/>
<line x1="578.6" y1="693.2" x2="590.6" y2="682.2" stroke="#000" stroke-width="1.4" opacity="0.9"/>
<line x1="582.6" y1="693.2" x2="594.6" y2="682.2" stroke="#000" stroke-width="1.4" opacity="0.9"/>
<line x1="586.6" y1="693.2" x2="598.6" y2="682.2" stroke="#000" stroke-width="1.4" opacity="0.9"/>
<line x1="572.5" y1="688.4" x2="595.5" y2="685.4" stroke="#000" stroke-width="1.2" opacity="0.85"/>
<line x1="569.5" y1="691" x2="592.5" y2="688" stroke="#000" stroke-width="1.1" opacity="0.7"/>
<rect x="583.1" y="686" width="1.8" height="27" fill="#000"/>
<ellipse cx="584" cy="701.8" rx="2.2" ry="5.6" fill="#000"/>
<rect x="583.2" y="711" width="1.6" height="7" fill="#333"/>
</g>
<g id="factory">
<defs><linearGradient id="fg1" x1="0" y1="0" x2="1" y2="0"><stop offset="0" stop-color="#cfd5d9"/><stop offset="1" stop-color="#7f888f"/></linearGradient><linearGradient id="fg2" x1="0" y1="0" x2="1" y2="0"><stop offset="0" stop-color="#8a939a"/><stop offset="1" stop-color="#4f585f"/></linearGradient><linearGradient id="fg3" x1="0" y1="0" x2="0" y2="1"><stop offset="0" stop-color="#ff7a1a"/><stop offset="1" stop-color="#e9531f"/></linearGradient><linearGradient id="fg4" x1="0" y1="0" x2="1" y2="0"><stop offset="0" stop-color="#dde1e3"/><stop offset="1" stop-color="#a2a9ae"/></linearGradient></defs>
<polygon points="140,611 190,592 215,605.5 167,626.5" fill="#2f9e3a"/>
<polygon points="140,611 167,626.5 215,605.5 215,603 167,623.5 140,608.5" fill="#58c24a"/>
<ellipse cx="203" cy="589.5" rx="7.5" ry="9" fill="#3f9a2e"/>
<ellipse cx="207" cy="596" rx="7" ry="7" fill="#2f8a28"/>
<ellipse cx="200" cy="586" rx="5" ry="5.5" fill="#58b43c"/>
<path d="M148 546 C151 541 160 541.5 165 544 C172 541 184 542 190 545.5 C197 545 203 546.5 203 549 C196 552 188 550.5 182 551.5 C176 555.5 168 553.5 165 550 C158 551.5 151 550.5 148 546 Z" fill="#c2c2c2" opacity="0.6"/>
<path d="M160 552 C166 549 176 552 178 556 C172 560 163 558 160 552 Z" fill="#a8a8a8" opacity="0.5"/>
<polygon points="147,588 163.2,600 163.2,617.5 147,609" fill="#e8ecee"/>
<rect x="149.5" y="597.5" width="3.2" height="5.5" fill="#2c8fd6"/>
<rect x="155.5" y="601" width="3.2" height="5.5" fill="#2c8fd6"/>
<polygon points="163.2,600 193.2,567.5 203,597.5 203,606 163.2,617.5" fill="url(#fg4)"/>
<polygon points="163.2,614 203,602.5 203,606 163.2,617.5" fill="#9aa0a4"/>
<polygon points="171.5,601.5 175.9,599.9 175.9,606.1 171.5,607.7" fill="#2a86cf" stroke="#6a4a2a" stroke-width="0.5" stroke-linejoin="round"/>
<polygon points="179.5,598.3 183.9,596.7 183.9,602.9 179.5,604.5" fill="#2a86cf" stroke="#6a4a2a" stroke-width="0.5" stroke-linejoin="round"/>
<polygon points="187.5,595.2 191.9,593.6 191.9,599.8 187.5,601.4" fill="#2a86cf" stroke="#6a4a2a" stroke-width="0.5" stroke-linejoin="round"/>
<polygon points="193.2,567.5 203.5,597 201,598 192,572" fill="#f08a2a"/>
<polygon points="170.4,558.7 193.7,566.2 163.2,600.5 146.5,588" fill="url(#fg3)"/>
<polygon points="170.4,558.7 193.7,566.2 190,570.5 170,563.5" fill="#6a3a1a" opacity="0.75"/>
<polygon points="146.5,588 163.2,600.5 165,598.2 149,586" fill="#e83a2a"/>
<polygon points="163.2,600.5 193.7,566.2 195.2,567.5 164.8,602.2" fill="#ff9a3a"/>
<polygon points="139.5,574 170.5,583.5 170.5,589 139.5,580" fill="#bfe3e8"/>
<polygon points="139.5,574 147,571 175,580 170.5,583.5" fill="#e4f4f6"/>
<rect x="139.7" y="546.5" width="8.2" height="29.5" fill="#d3232f" rx="1.5"/>
<rect x="139.7" y="553" width="8.2" height="3.8" fill="#f5eeee"/>
<rect x="139.7" y="562.7" width="8.2" height="3.8" fill="#f5eeee"/>
<rect x="139.7" y="571.9" width="8.2" height="3.8" fill="#f5eeee"/>
<rect x="145.2" y="546.5" width="2.7" height="29.5" fill="#7a0f18" rx="1" opacity="0.35"/>
<ellipse cx="143.8" cy="547.1" rx="4.1" ry="1.5" fill="#8c1a22"/>
<rect x="150.5" y="550" width="8.2" height="29.5" fill="#d3232f" rx="1.5"/>
<rect x="150.5" y="556.5" width="8.2" height="3.8" fill="#f5eeee"/>
<rect x="150.5" y="566.2" width="8.2" height="3.8" fill="#f5eeee"/>
<rect x="150.5" y="575.4" width="8.2" height="3.8" fill="#f5eeee"/>
<rect x="156" y="550" width="2.7" height="29.5" fill="#7a0f18" rx="1" opacity="0.35"/>
<ellipse cx="154.6" cy="550.6" rx="4.1" ry="1.5" fill="#8c1a22"/>
<rect x="161.3" y="553.5" width="8.2" height="29.5" fill="#d3232f" rx="1.5"/>
<rect x="161.3" y="560" width="8.2" height="3.8" fill="#f5eeee"/>
<rect x="161.3" y="569.7" width="8.2" height="3.8" fill="#f5eeee"/>
<rect x="161.3" y="578.9" width="8.2" height="3.8" fill="#f5eeee"/>
<rect x="166.8" y="553.5" width="2.7" height="29.5" fill="#7a0f18" rx="1" opacity="0.35"/>
<ellipse cx="165.4" cy="554.1" rx="4.1" ry="1.5" fill="#8c1a22"/>
<polygon points="79.5,622.5 112,609 162,627.5 162,630.5 129.5,645.5 79.5,625.5" fill="#b5303c"/>
<polygon points="79.5,622.5 112,609 162,627.5 129.5,642.5" fill="#e0505a"/>
<rect x="88.6" y="581.5" width="9.4" height="42" fill="#c93f4b" rx="2"/>
<rect x="94.5" y="581.5" width="3.5" height="42" fill="#8e2631" rx="1.5"/>
<ellipse cx="93.3" cy="582" rx="4.7" ry="1.6" fill="#7a1e28"/>
<polygon points="100.5,579 128,572 147.5,581 147.5,630 129,638 100.5,624" fill="#8d979e"/>
<polygon points="99.5,578.5 122,571.5 148.5,581.5 126.5,589" fill="#c3cacf" stroke="#6b747a" stroke-width="0.8" stroke-linejoin="round"/>
<polygon points="99.5,578.5 126.5,589 148.5,581.5 148.5,583.5 126.5,591.2 99.5,580.6" fill="#59626a"/>
<polygon points="110.3,571 110.3,578 128.5,584.5 136,581.5 136,573.5 119,567.3" fill="#7f8a92"/>
<polygon points="110.3,571 119,567.3 136,573.5 128.5,577" fill="#dfe5e8"/>
<polygon points="111.5,573.2 127.5,578.7 127.5,583.3 111.5,577.6" fill="#46698a"/>
<line x1="113.2" y1="573.8" x2="113.2" y2="578.2" stroke="#a9c0d2" stroke-width="0.7"/>
<line x1="116.3" y1="574.9" x2="116.3" y2="579.3" stroke="#a9c0d2" stroke-width="0.7"/>
<line x1="119.4" y1="575.9" x2="119.4" y2="580.3" stroke="#a9c0d2" stroke-width="0.7"/>
<line x1="122.5" y1="577" x2="122.5" y2="581.4" stroke="#a9c0d2" stroke-width="0.7"/>
<line x1="125.6" y1="578.1" x2="125.6" y2="582.5" stroke="#a9c0d2" stroke-width="0.7"/>
<polygon points="128.5,577 136,573.5 136,581.5 128.5,584.5" fill="#5d6870"/>
<polygon points="100.5,580 126.5,589.5 126.5,606 100.5,596" fill="url(#fg1)"/>
<polygon points="103,585 124,592.5 124,596.4 103,588.8" fill="#5f86a3"/>
<polygon points="126.5,589.5 148.5,582 148.5,630 126.5,638" fill="url(#fg2)"/>
<ellipse cx="101.5" cy="602" rx="4.2" ry="9" fill="#ececec" stroke="#8f969c" stroke-width="0.7" transform="rotate(18 101.5 602)"/>
<ellipse cx="108.6" cy="604.4" rx="4.2" ry="9" fill="#ececec" stroke="#8f969c" stroke-width="0.7" transform="rotate(18 108.6 604.4)"/>
<ellipse cx="115.7" cy="606.8" rx="4.2" ry="9" fill="#ececec" stroke="#8f969c" stroke-width="0.7" transform="rotate(18 115.7 606.8)"/>
<ellipse cx="122.8" cy="609.2" rx="4.2" ry="9" fill="#ececec" stroke="#8f969c" stroke-width="0.7" transform="rotate(18 122.8 609.2)"/>
<polygon points="91,609 129.5,623.5 129.5,640 91,625" fill="url(#fg1)"/>
<polygon points="91,609 129.5,623.5 129.5,626.5 91,612" fill="#6f7a82"/>
<polygon points="93.5,614.5 101,617.3 101,622 93.5,619.2" fill="#5f88a8"/>
<polygon points="105.3,617.5 116.4,621.7 116.4,635.5 105.3,631.2" fill="#e8c530" stroke="#3a3520" stroke-width="0.7" stroke-linejoin="round"/>
<line x1="105.3" y1="621" x2="116.4" y2="625.2" stroke="#3a3520" stroke-width="0.7"/>
<line x1="105.3" y1="624.4" x2="116.4" y2="628.6" stroke="#3a3520" stroke-width="0.7"/>
<line x1="105.3" y1="627.8" x2="116.4" y2="632" stroke="#3a3520" stroke-width="0.7"/>
<polygon points="129.5,623.5 157.8,612.5 157.8,628.5 129.5,640" fill="#7a848b"/>
<polygon points="125.5,612 133,609 141,612.5 141,633.5 133.5,636.5 125.5,633" fill="#dfe5e8"/>
<polygon points="133.5,615.5 141,612.5 141,633.5 133.5,636.5" fill="#8e989f"/>
<polygon points="131.5,617.5 133.5,618.3 133.5,634.5 131.5,633.7" fill="#2c76b8"/>
<polygon points="136,591 141,589 146,591 146,622 136,622" fill="#c9d0d5"/>
<polygon points="141,593 146,591 146,622 141,622" fill="#808a91"/>
<polygon points="147,606 152,604 157.8,606.5 157.8,628.5 150,631.5 147,630" fill="#bcc4c9"/>
<polygon points="152,608.5 157.8,606.5 157.8,628.5 152,631" fill="#6d777e"/>
</g>
<g>
<polygon points="79.3,641.2 81.9,641.2 82.7,650.9 78.5,650.9" fill="#8a5a44"/>
<path d="M88.6 638 A3.4 3.4 0 0 1 86.7 642.1 A3.4 3.4 0 0 1 82 644.3 A3.4 3.4 0 0 1 76.6 643.5 A3.4 3.4 0 0 1 73.1 640.2 A3.4 3.4 0 0 1 73.1 635.8 A3.4 3.4 0 0 1 76.6 632.5 A3.4 3.4 0 0 1 82 631.7 A3.4 3.4 0 0 1 86.7 633.9 A3.4 3.4 0 0 1 88.6 638 Z" fill="#7ac143"/>
<ellipse cx="79.4" cy="636.4" rx="4.8" ry="3.2" fill="#8ccc50"/>
</g>
<g>
<polygon points="103.5,658.2 106.1,658.2 106.9,667.9 102.7,667.9" fill="#8a5a44"/>
<path d="M112.8 655 A3.4 3.4 0 0 1 110.9 659.1 A3.4 3.4 0 0 1 106.2 661.3 A3.4 3.4 0 0 1 100.8 660.5 A3.4 3.4 0 0 1 97.3 657.2 A3.4 3.4 0 0 1 97.3 652.8 A3.4 3.4 0 0 1 100.8 649.5 A3.4 3.4 0 0 1 106.2 648.7 A3.4 3.4 0 0 1 110.9 650.9 A3.4 3.4 0 0 1 112.8 655 Z" fill="#7ac143"/>
<ellipse cx="103.6" cy="653.4" rx="4.8" ry="3.2" fill="#8ccc50"/>
</g>
<g id="house">
<polygon points="322.9,521.5 367.7,549.3 352.4,573.5 352.4,596 308.8,575.5 308.8,548.4" fill="#000"/>
<polygon points="367.7,549.3 382,557.8 382,584.2 352.4,596 352.4,573.5" fill="#a89580"/>
<polygon points="367.7,549.3 382,557.8 382,584.2 352.4,596 352.4,573.5" fill="none" stroke="#3a2a1a" stroke-width="0.6" stroke-linejoin="round"/>
<polygon points="363.2,571.5 372.2,567.2 372.2,580.3 363.2,584.3" fill="#4f7f96" stroke="#2a3a44" stroke-width="0.7" stroke-linejoin="round"/>
<line x1="363.2" y1="577.8" x2="372.2" y2="573.6" stroke="#2a3a44" stroke-width="0.7"/>
<polygon points="323.5,552.5 339,543 338.5,566 331.5,570" fill="#5a2408"/>
<path d="M308.5 552 L352.4 577.5" fill="none" stroke="#3a1a0a" stroke-width="0.6"/>
<rect x="320.3" y="565" width="1.7" height="19" fill="#8a8a8a"/>
<rect x="327.6" y="569" width="1.7" height="19" fill="#8a8a8a"/>
<polygon points="315,583.5 320.5,581 334,588.5 328.5,591" fill="#7a7a7a"/>
<g>
<polygon points="300.6,564.3 303.2,564.3 304.3,580.6 299.5,580.6" fill="#5a3a26" stroke="#111" stroke-width="0.5" stroke-linejoin="round"/>
<line x1="294.7" y1="580.6" x2="309.1" y2="580.6" stroke="#333" stroke-width="0.9"/>
<path d="M312.2 560.5 A4.3 4.3 0 0 1 309.8 565.4 A4.3 4.3 0 0 1 303.7 568 A4.3 4.3 0 0 1 296.8 567.1 A4.3 4.3 0 0 1 292.2 563.1 A4.3 4.3 0 0 1 292.2 557.9 A4.3 4.3 0 0 1 296.8 553.9 A4.3 4.3 0 0 1 303.7 553 A4.3 4.3 0 0 1 309.8 555.6 A4.3 4.3 0 0 1 312.2 560.5 Z" fill="#39b54a" stroke="#111" stroke-width="0.9"/>
</g>
<g>
<polygon points="337.3,588.8 339.9,588.8 341,605.8 336.2,605.8" fill="#5a3a26" stroke="#111" stroke-width="0.5" stroke-linejoin="round"/>
<line x1="331.4" y1="605.8" x2="345.8" y2="605.8" stroke="#333" stroke-width="0.9"/>
<path d="M348.9 585 A4.3 4.3 0 0 1 346.5 589.9 A4.3 4.3 0 0 1 340.4 592.5 A4.3 4.3 0 0 1 333.5 591.6 A4.3 4.3 0 0 1 328.9 587.6 A4.3 4.3 0 0 1 328.9 582.4 A4.3 4.3 0 0 1 333.5 578.4 A4.3 4.3 0 0 1 340.4 577.5 A4.3 4.3 0 0 1 346.5 580.1 A4.3 4.3 0 0 1 348.9 585 Z" fill="#39b54a" stroke="#111" stroke-width="0.9"/>
</g>
</g>
<g id="hotel">
<rect x="457.9" y="544.7" width="16" height="37.5" fill="#a9dcf5"/>
<rect x="457.9" y="544.7" width="16" height="37.5" fill="url(#glass)"/>
<rect x="465.1" y="544.7" width="1.5" height="28" fill="#7f98ab"/>
<rect x="457.9" y="553" width="16" height="1.5" fill="#e8f6fd"/>
<rect x="457.9" y="562.2" width="16" height="1.5" fill="#e8f6fd"/>
<rect x="457.9" y="571.4" width="16" height="1.5" fill="#e8f6fd"/>
<rect x="457.9" y="573" width="16" height="9.3" fill="#b7bcc6"/>
<path d="M462.6 582.3 v-3.5 a3.3 3.3 0 0 1 6.6 0 v3.5 Z" fill="#fff"/>
<rect x="478.8" y="544.7" width="16" height="37.5" fill="#a9dcf5"/>
<rect x="478.8" y="544.7" width="16" height="37.5" fill="url(#glass)"/>
<rect x="486" y="544.7" width="1.5" height="28" fill="#7f98ab"/>
<rect x="478.8" y="553" width="16" height="1.5" fill="#e8f6fd"/>
<rect x="478.8" y="562.2" width="16" height="1.5" fill="#e8f6fd"/>
<rect x="478.8" y="571.4" width="16" height="1.5" fill="#e8f6fd"/>
<rect x="478.8" y="573" width="16" height="9.3" fill="#b7bcc6"/>
<path d="M483.5 582.3 v-3.5 a3.3 3.3 0 0 1 6.6 0 v3.5 Z" fill="#fff"/>
<rect x="473.9" y="550" width="5" height="2.4" fill="#8f9aa6"/>
<rect x="473.9" y="559.2" width="5" height="2.4" fill="#8f9aa6"/>
<rect x="473.9" y="568.4" width="5" height="2.4" fill="#8f9aa6"/>
<rect x="456.5" y="581.3" width="39.5" height="1.6" fill="#8a93a0"/>
<polygon points="514,505.2 516,515 518.5,515 518.5,519 521.5,519 521.5,522.5 524.5,522.5 524.5,525.5 503.5,525.5 503.5,522.5 506.5,522.5 506.5,519 509.5,519 509.5,515 512,515" fill="#676767"/>
<rect x="500" y="525" width="28.3" height="58.3" fill="#676767"/>
<rect x="502.8" y="528.3" width="5.4" height="3.3" fill="#f2f2f2" rx="0.5"/>
<rect x="511.4" y="528.3" width="5.4" height="3.3" fill="#f2f2f2" rx="0.5"/>
<rect x="520" y="528.3" width="5.4" height="3.3" fill="#f2f2f2" rx="0.5"/>
<rect x="502.8" y="534.3" width="5.4" height="3.3" fill="#f2f2f2" rx="0.5"/>
<rect x="511.4" y="534.3" width="5.4" height="3.3" fill="#f2f2f2" rx="0.5"/>
<rect x="520" y="534.3" width="5.4" height="3.3" fill="#f2f2f2" rx="0.5"/>
<rect x="502.8" y="540.3" width="5.4" height="3.3" fill="#f2f2f2" rx="0.5"/>
<rect x="511.4" y="540.3" width="5.4" height="3.3" fill="#f2f2f2" rx="0.5"/>
<rect x="520" y="540.3" width="5.4" height="3.3" fill="#f2f2f2" rx="0.5"/>
<rect x="502.8" y="546.3" width="5.4" height="3.3" fill="#f2f2f2" rx="0.5"/>
<rect x="511.4" y="546.3" width="5.4" height="3.3" fill="#f2f2f2" rx="0.5"/>
<rect x="520" y="546.3" width="5.4" height="3.3" fill="#f2f2f2" rx="0.5"/>
<rect x="502.8" y="552.3" width="5.4" height="3.3" fill="#f2f2f2" rx="0.5"/>
<rect x="511.4" y="552.3" width="5.4" height="3.3" fill="#f2f2f2" rx="0.5"/>
<rect x="520" y="552.3" width="5.4" height="3.3" fill="#f2f2f2" rx="0.5"/>
<rect x="502.8" y="558.3" width="5.4" height="3.3" fill="#f2f2f2" rx="0.5"/>
<rect x="511.4" y="558.3" width="5.4" height="3.3" fill="#f2f2f2" rx="0.5"/>
<rect x="520" y="558.3" width="5.4" height="3.3" fill="#f2f2f2" rx="0.5"/>
<rect x="502.8" y="564.3" width="5.4" height="3.3" fill="#f2f2f2" rx="0.5"/>
<rect x="511.4" y="564.3" width="5.4" height="3.3" fill="#f2f2f2" rx="0.5"/>
<rect x="520" y="564.3" width="5.4" height="3.3" fill="#f2f2f2" rx="0.5"/>
<rect x="502.8" y="570.3" width="5.4" height="3.3" fill="#f2f2f2" rx="0.5"/>
<rect x="511.4" y="570.3" width="5.4" height="3.3" fill="#f2f2f2" rx="0.5"/>
<rect x="520" y="570.3" width="5.4" height="3.3" fill="#f2f2f2" rx="0.5"/>
<rect x="502.8" y="576.3" width="5.4" height="3.3" fill="#f2f2f2" rx="0.5"/>
<rect x="520" y="576.3" width="5.4" height="3.3" fill="#f2f2f2" rx="0.5"/>
<rect x="511.8" y="576.5" width="4.6" height="6.8" fill="#f2f2f2"/>
<polygon points="537.1,555.4 546.6,555.4 546.6,536.6 565.4,536.6 565.4,583.3 537.1,583.3" fill="#676767"/>
<line x1="554.5" y1="531" x2="558" y2="534.5" stroke="#777" stroke-width="1"/>
<rect x="548.3" y="539.8" width="5.6" height="3.4" fill="#f2f2f2" rx="0.5"/>
<rect x="557.1" y="539.8" width="5.6" height="3.4" fill="#f2f2f2" rx="0.5"/>
<rect x="548.3" y="545.8" width="5.6" height="3.4" fill="#f2f2f2" rx="0.5"/>
<rect x="557.1" y="545.8" width="5.6" height="3.4" fill="#f2f2f2" rx="0.5"/>
<rect x="548.3" y="551.8" width="5.6" height="3.4" fill="#f2f2f2" rx="0.5"/>
<rect x="557.1" y="551.8" width="5.6" height="3.4" fill="#f2f2f2" rx="0.5"/>
<rect x="539.5" y="557.8" width="5.6" height="3.4" fill="#f2f2f2" rx="0.5"/>
<rect x="548.3" y="557.8" width="5.6" height="3.4" fill="#f2f2f2" rx="0.5"/>
<rect x="557.1" y="557.8" width="5.6" height="3.4" fill="#f2f2f2" rx="0.5"/>
<rect x="539.5" y="563.8" width="5.6" height="3.4" fill="#f2f2f2" rx="0.5"/>
<rect x="548.3" y="563.8" width="5.6" height="3.4" fill="#f2f2f2" rx="0.5"/>
<rect x="557.1" y="563.8" width="5.6" height="3.4" fill="#f2f2f2" rx="0.5"/>
<rect x="539.5" y="569.8" width="5.6" height="3.4" fill="#f2f2f2" rx="0.5"/>
<rect x="548.3" y="569.8" width="5.6" height="3.4" fill="#f2f2f2" rx="0.5"/>
<rect x="557.1" y="569.8" width="5.6" height="3.4" fill="#f2f2f2" rx="0.5"/>
<rect x="539.5" y="575.8" width="5.6" height="3.4" fill="#f2f2f2" rx="0.5"/>
<rect x="548.3" y="575.8" width="5.6" height="3.4" fill="#f2f2f2" rx="0.5"/>
<rect x="557.1" y="575.8" width="5.6" height="3.4" fill="#f2f2f2" rx="0.5"/>
<g>
<rect x="470.7" y="594.5" width="2.4" height="10.8" fill="#6b4226" stroke="#222" stroke-width="0.5"/>
<line x1="467.4" y1="605.3" x2="476.4" y2="605.3" stroke="#333" stroke-width="0.9"/>
<path d="M471.9 578 L477.9 594.5 Q471.9 597 465.9 594.5 Z" fill="#12933a" stroke="#06200d" stroke-width="1.2" stroke-linejoin="round"/>
<path d="M471.9 581 L474.5 593 L470.9 593 Z" fill="#3cc25e"/>
</g>
<g>
<polygon points="578.5,573.4 581.1,573.4 581.9,582.6 577.7,582.6" fill="#8a5a44"/>
<path d="M587.8 570.2 A3.4 3.4 0 0 1 585.9 574.3 A3.4 3.4 0 0 1 581.2 576.5 A3.4 3.4 0 0 1 575.8 575.7 A3.4 3.4 0 0 1 572.3 572.4 A3.4 3.4 0 0 1 572.3 568 A3.4 3.4 0 0 1 575.8 564.7 A3.4 3.4 0 0 1 581.2 563.9 A3.4 3.4 0 0 1 585.9 566.1 A3.4 3.4 0 0 1 587.8 570.2 Z" fill="#7ac143"/>
<ellipse cx="578.6" cy="568.6" rx="4.8" ry="3.2" fill="#8ccc50"/>
</g>
<g>
<polygon points="592.1,561.7 594.7,561.7 595.5,570.9 591.3,570.9" fill="#8a5a44"/>
<path d="M601.4 558.5 A3.4 3.4 0 0 1 599.5 562.6 A3.4 3.4 0 0 1 594.8 564.8 A3.4 3.4 0 0 1 589.4 564 A3.4 3.4 0 0 1 585.9 560.7 A3.4 3.4 0 0 1 585.9 556.3 A3.4 3.4 0 0 1 589.4 553 A3.4 3.4 0 0 1 594.8 552.2 A3.4 3.4 0 0 1 599.5 554.4 A3.4 3.4 0 0 1 601.4 558.5 Z" fill="#7ac143"/>
<ellipse cx="592.2" cy="556.9" rx="4.8" ry="3.2" fill="#8ccc50"/>
</g>
</g>
<g id="dish">
<defs><linearGradient id="dg" x1="0" y1="0" x2="0.3" y2="1"><stop offset="0" stop-color="#c5d3dc"/><stop offset="0.6" stop-color="#e9eef1"/><stop offset="1" stop-color="#b8c2c8"/></linearGradient><linearGradient id="dg2" x1="0" y1="0" x2="1" y2="0.4"><stop offset="0" stop-color="#a9c9da"/><stop offset="0.45" stop-color="#5f8ba6"/><stop offset="1" stop-color="#9cc0d2"/></linearGradient></defs>
<circle cx="665" cy="545.9" r="2.9" fill="#e6c30a"/>
<path d="M656.2 544.8 A9 9 0 0 1 669.4 538.1" fill="none" stroke="#e6c30a" stroke-width="3.3" stroke-linecap="round"/>
<path d="M650.2 542.6 A15.4 15.4 0 0 1 671.7 531.8" fill="none" stroke="#e6c30a" stroke-width="3.3" stroke-linecap="round"/>
<ellipse cx="671.5" cy="587.6" rx="17.8" ry="1.5" fill="#d5dadd"/>
<polygon points="669,580 676.6,580 677.8,587.4 667.8,587.4" fill="#b9c1c6"/>
<rect x="668.6" y="585.2" width="2" height="2.4" fill="#555"/>
<rect x="675.2" y="585.2" width="2" height="2.4" fill="#555"/>
<ellipse cx="671.4" cy="571.2" rx="17.8" ry="11.2" fill="url(#dg)" stroke="#9aa8b2" stroke-width="0.7" transform="rotate(-16 671.4 571.2)"/>
<ellipse cx="671" cy="568.4" rx="16.4" ry="7.6" fill="url(#dg2)" transform="rotate(-16 671 568.4)"/>
<line x1="657.5" y1="574.5" x2="668" y2="561" stroke="#dfe8ee" stroke-width="0.9"/>
<line x1="685.5" y1="566" x2="670.5" y2="561" stroke="#dfe8ee" stroke-width="0.9"/>
<line x1="672" y1="576.5" x2="669.5" y2="561" stroke="#6f8797" stroke-width="0.9"/>
<line x1="667.3" y1="553.6" x2="670.2" y2="561" stroke="#2f8fc0" stroke-width="4" stroke-linecap="round"/>
</g>
<g id="restaurant">
<polygon points="743,577.8 782.2,591.7 763,615 763,654.4 725,638 725,601.7" fill="#000"/>
<polygon points="782.2,591.7 801.3,603 801.3,641 763,654.4 763,615" fill="#8a7568"/>
<polygon points="782.2,591.7 801.3,603 801.3,641 763,654.4 763,615" fill="none" stroke="#4a3a30" stroke-width="0.6" stroke-linejoin="round"/>
<ellipse cx="781.8" cy="622" rx="13.5" ry="8" fill="#bdb0a5" transform="rotate(-24 781.8 622)" opacity="0.85"/>
<ellipse cx="781.8" cy="622" rx="9.5" ry="5.2" fill="#d2c8bf" transform="rotate(-24 781.8 622)" opacity="0.8"/>
<ellipse cx="782.5" cy="621" rx="6" ry="2.6" fill="#7a3a22" transform="rotate(-24 782.5 621)"/>
<circle cx="734.5" cy="602" r="2.3" fill="none" stroke="#2a2a2a" stroke-width="0.8"/>
<circle cx="743.5" cy="605.2" r="2.3" fill="none" stroke="#2a2a2a" stroke-width="0.8"/>
<circle cx="752.5" cy="608.4" r="2.3" fill="none" stroke="#2a2a2a" stroke-width="0.8"/>
<polygon points="683,619.7 719.5,636.5 719.5,676.8 683,661" fill="#c3b294"/>
<polygon points="719.5,636.5 757.6,618.5 757.6,652 719.5,676.8" fill="#a89a80"/>
<polygon points="683,619.7 721.7,602.4 757.6,618.5 719.5,636.5" fill="#d6c9a8" stroke="#6a5f4a" stroke-width="0.7" stroke-linejoin="round"/>
<polygon points="706,615.5 718,610 726,613.5 714,619" fill="#efe9d8" stroke="#5a5040" stroke-width="0.6" stroke-linejoin="round"/>
<polygon points="717,620.5 729,615 737,618.5 725,624" fill="#efe9d8" stroke="#5a5040" stroke-width="0.6" stroke-linejoin="round"/>
<line x1="724" y1="606" x2="752" y2="618.5" stroke="#3a3a3a" stroke-width="0.9"/>
<polygon points="686.8,626 690.1,627.5 690.1,633.7 686.8,632.2" fill="#3f78a6"/>
<polygon points="693.4,629 696.7,630.5 696.7,636.7 693.4,635.2" fill="#3f78a6"/>
<polygon points="700,632 703.3,633.5 703.3,639.7 700,638.2" fill="#3f78a6"/>
<polygon points="706.5,635 709.8,636.5 709.8,642.7 706.5,641.2" fill="#3f78a6"/>
<polygon points="713.1,638.1 716.4,639.6 716.4,645.8 713.1,644.3" fill="#3f78a6"/>
<polygon points="686.8,635 690.1,636.5 690.1,642.7 686.8,641.2" fill="#3f78a6"/>
<polygon points="693.4,638 696.7,639.5 696.7,645.7 693.4,644.2" fill="#3f78a6"/>
<polygon points="700,641 703.3,642.5 703.3,648.7 700,647.2" fill="#3f78a6"/>
<polygon points="706.5,644 709.8,645.5 709.8,651.7 706.5,650.2" fill="#3f78a6"/>
<polygon points="713.1,647.1 716.4,648.6 716.4,654.8 713.1,653.3" fill="#3f78a6"/>
<polygon points="686.8,644 690.1,645.5 690.1,651.7 686.8,650.2" fill="#3f78a6"/>
<polygon points="693.4,647 696.7,648.5 696.7,654.7 693.4,653.2" fill="#3f78a6"/>
<polygon points="700,650 703.3,651.5 703.3,657.7 700,656.2" fill="#3f78a6"/>
<polygon points="706.5,653 709.8,654.5 709.8,660.7 706.5,659.2" fill="#3f78a6"/>
<polygon points="713.1,656.1 716.4,657.6 716.4,663.8 713.1,662.3" fill="#3f78a6"/>
<polygon points="723.5,639.1 726.9,637.5 726.9,643.7 723.5,645.3" fill="#36688f"/>
<polygon points="730.4,635.9 733.8,634.2 733.8,640.5 730.4,642.1" fill="#36688f"/>
<polygon points="737.2,632.6 740.6,631 740.6,637.2 737.2,638.8" fill="#36688f"/>
<polygon points="744.1,629.4 747.5,627.8 747.5,634 744.1,635.6" fill="#36688f"/>
<polygon points="750.9,626.1 754.4,624.5 754.4,630.7 750.9,632.4" fill="#36688f"/>
<polygon points="723.5,648.1 726.9,646.5 726.9,652.7 723.5,654.3" fill="#36688f"/>
<polygon points="730.4,644.9 733.8,643.2 733.8,649.5 730.4,651.1" fill="#36688f"/>
<polygon points="737.2,641.6 740.6,640 740.6,646.2 737.2,647.8" fill="#36688f"/>
<polygon points="744.1,638.4 747.5,636.8 747.5,643 744.1,644.6" fill="#36688f"/>
<polygon points="750.9,635.1 754.4,633.5 754.4,639.7 750.9,641.4" fill="#36688f"/>
<polygon points="723.5,657.1 726.9,655.5 726.9,661.7 723.5,663.3" fill="#36688f"/>
<polygon points="730.4,653.9 733.8,652.2 733.8,658.5 730.4,660.1" fill="#36688f"/>
<polygon points="737.2,650.6 740.6,649 740.6,655.2 737.2,656.8" fill="#36688f"/>
<polygon points="744.1,647.4 747.5,645.8 747.5,652 744.1,653.6" fill="#36688f"/>
<polygon points="750.9,644.1 754.4,642.5 754.4,648.7 750.9,650.4" fill="#36688f"/>
<polygon points="681.5,648.5 719.5,665.5 719.5,670.1 681.5,653.1" fill="#f4f0ee"/>
<polygon points="719.5,665.5 759.5,646.5 759.5,651.1 719.5,670.1" fill="#f4f0ee"/>
<polygon points="681.5,648.5 683.4,649.4 683.4,654 681.5,653.1" fill="#d9282f"/>
<polygon points="719.5,665.5 721.5,664.5 721.5,669.1 719.5,670.1" fill="#d9282f"/>
<polygon points="685.3,650.2 687.2,651 687.2,655.6 685.3,654.8" fill="#d9282f"/>
<polygon points="723.5,663.6 725.5,662.6 725.5,667.2 723.5,668.2" fill="#d9282f"/>
<polygon points="689.1,651.9 691,652.8 691,657.4 689.1,656.5" fill="#d9282f"/>
<polygon points="727.5,661.7 729.5,660.8 729.5,665.4 727.5,666.3" fill="#d9282f"/>
<polygon points="692.9,653.6 694.8,654.5 694.8,659.1 692.9,658.2" fill="#d9282f"/>
<polygon points="731.5,659.8 733.5,658.9 733.5,663.5 731.5,664.4" fill="#d9282f"/>
<polygon points="696.7,655.3 698.6,656.1 698.6,660.8 696.7,659.9" fill="#d9282f"/>
<polygon points="735.5,657.9 737.5,657 737.5,661.6 735.5,662.5" fill="#d9282f"/>
<polygon points="700.5,657 702.4,657.9 702.4,662.5 700.5,661.6" fill="#d9282f"/>
<polygon points="739.5,656 741.5,655 741.5,659.6 739.5,660.6" fill="#d9282f"/>
<polygon points="704.3,658.7 706.2,659.5 706.2,664.1 704.3,663.3" fill="#d9282f"/>
<polygon points="743.5,654.1 745.5,653.1 745.5,657.8 743.5,658.7" fill="#d9282f"/>
<polygon points="708.1,660.4 710,661.2 710,665.9 708.1,665" fill="#d9282f"/>
<polygon points="747.5,652.2 749.5,651.2 749.5,655.9 747.5,656.8" fill="#d9282f"/>
<polygon points="711.9,662.1 713.8,663 713.8,667.6 711.9,666.7" fill="#d9282f"/>
<polygon points="751.5,650.3 753.5,649.4 753.5,654 751.5,654.9" fill="#d9282f"/>
<polygon points="715.7,663.8 717.6,664.6 717.6,669.2 715.7,668.4" fill="#d9282f"/>
<polygon points="755.5,648.4 757.5,647.5 757.5,652.1 755.5,653" fill="#d9282f"/>
<polygon points="683,653.5 719.5,670 719.5,677 683,661" fill="#2f6fa3"/>
<polygon points="719.5,670 757.6,652 757.6,659 719.5,677" fill="#285f8c"/>
<line x1="719.5" y1="636.5" x2="719.5" y2="677" stroke="#8f8f8f" stroke-width="1.2"/>
<g>
<polygon points="802.6,640.7 804.4,640.7 805,647.5 802,647.5" fill="#8a5a44"/>
<path d="M809.1 638.5 A2.4 2.4 0 0 1 807.8 641.4 A2.4 2.4 0 0 1 804.5 642.9 A2.4 2.4 0 0 1 800.7 642.4 A2.4 2.4 0 0 1 798.2 640 A2.4 2.4 0 0 1 798.2 637 A2.4 2.4 0 0 1 800.7 634.6 A2.4 2.4 0 0 1 804.5 634.1 A2.4 2.4 0 0 1 807.8 635.6 A2.4 2.4 0 0 1 809.1 638.5 Z" fill="#7ac143"/>
<ellipse cx="802.7" cy="637.4" rx="3.4" ry="2.2" fill="#8ccc50"/>
</g>
<g>
<polygon points="788.5,649.7 790.3,649.7 790.9,656.5 787.9,656.5" fill="#8a5a44"/>
<path d="M795 647.5 A2.4 2.4 0 0 1 793.7 650.4 A2.4 2.4 0 0 1 790.4 651.9 A2.4 2.4 0 0 1 786.6 651.4 A2.4 2.4 0 0 1 784.1 649 A2.4 2.4 0 0 1 784.1 646 A2.4 2.4 0 0 1 786.6 643.6 A2.4 2.4 0 0 1 790.4 643.1 A2.4 2.4 0 0 1 793.7 644.6 A2.4 2.4 0 0 1 795 647.5 Z" fill="#7ac143"/>
<ellipse cx="788.6" cy="646.4" rx="3.4" ry="2.2" fill="#8ccc50"/>
</g>
<g>
<polygon points="774.6,656.4 776.4,656.4 777,663.2 774,663.2" fill="#8a5a44"/>
<path d="M781.1 654.2 A2.4 2.4 0 0 1 779.8 657.1 A2.4 2.4 0 0 1 776.5 658.6 A2.4 2.4 0 0 1 772.7 658.1 A2.4 2.4 0 0 1 770.2 655.7 A2.4 2.4 0 0 1 770.2 652.7 A2.4 2.4 0 0 1 772.7 650.3 A2.4 2.4 0 0 1 776.5 649.8 A2.4 2.4 0 0 1 779.8 651.3 A2.4 2.4 0 0 1 781.1 654.2 Z" fill="#7ac143"/>
<ellipse cx="774.7" cy="653.1" rx="3.4" ry="2.2" fill="#8ccc50"/>
</g>
<g>
<polygon points="760.1,663.5 761.9,663.5 762.5,670.3 759.5,670.3" fill="#8a5a44"/>
<path d="M766.6 661.3 A2.4 2.4 0 0 1 765.3 664.2 A2.4 2.4 0 0 1 762 665.7 A2.4 2.4 0 0 1 758.2 665.2 A2.4 2.4 0 0 1 755.7 662.8 A2.4 2.4 0 0 1 755.7 659.8 A2.4 2.4 0 0 1 758.2 657.4 A2.4 2.4 0 0 1 762 656.9 A2.4 2.4 0 0 1 765.3 658.4 A2.4 2.4 0 0 1 766.6 661.3 Z" fill="#7ac143"/>
<ellipse cx="760.2" cy="660.2" rx="3.4" ry="2.2" fill="#8ccc50"/>
</g>
<g>
<polygon points="748.1,671 749.9,671 750.5,677.8 747.5,677.8" fill="#8a5a44"/>
<path d="M754.6 668.8 A2.4 2.4 0 0 1 753.3 671.7 A2.4 2.4 0 0 1 750 673.2 A2.4 2.4 0 0 1 746.2 672.7 A2.4 2.4 0 0 1 743.7 670.3 A2.4 2.4 0 0 1 743.7 667.3 A2.4 2.4 0 0 1 746.2 664.9 A2.4 2.4 0 0 1 750 664.4 A2.4 2.4 0 0 1 753.3 665.9 A2.4 2.4 0 0 1 754.6 668.8 Z" fill="#7ac143"/>
<ellipse cx="748.2" cy="667.7" rx="3.4" ry="2.2" fill="#8ccc50"/>
</g>
<g>
<polygon points="734.1,677.7 735.9,677.7 736.5,684.5 733.5,684.5" fill="#8a5a44"/>
<path d="M740.6 675.5 A2.4 2.4 0 0 1 739.3 678.4 A2.4 2.4 0 0 1 736 679.9 A2.4 2.4 0 0 1 732.2 679.4 A2.4 2.4 0 0 1 729.7 677 A2.4 2.4 0 0 1 729.7 674 A2.4 2.4 0 0 1 732.2 671.6 A2.4 2.4 0 0 1 736 671.1 A2.4 2.4 0 0 1 739.3 672.6 A2.4 2.4 0 0 1 740.6 675.5 Z" fill="#7ac143"/>
<ellipse cx="734.2" cy="674.4" rx="3.4" ry="2.2" fill="#8ccc50"/>
</g>
</g>
<g id="smallhouse">
<rect x="662" y="677" width="9.8" height="22" fill="#c9352c"/>
<polygon points="613.9,704 644.3,675 675,704 675,738.3 613.9,738.3" fill="#b7bbc3"/>
<polygon points="613.9,708 644.3,679 675,708 675,703 644.3,674 613.9,703" fill="#9aa0aa"/>
<path d="M608.2 709.5 L644.3 675 L680.6 709.5" fill="none" stroke="#ee4b40" stroke-width="6.2" stroke-linejoin="miter" stroke-linecap="butt"/>
<circle cx="644.5" cy="701" r="7" fill="#3498db"/>
<path d="M639 697.5 A7 7 0 0 1 650 697.5" fill="none" stroke="#5fb3ea" stroke-width="1.6"/>
<rect x="637.8" y="715" width="13.6" height="23.3" fill="#f0801e"/>
<rect x="637.8" y="715" width="13.6" height="2.4" fill="#d96a10"/>
<circle cx="648.3" cy="727.5" r="1.1" fill="#ffd23a"/>
<g>
<polygon points="698.5,722.2 702.7,722.2 704,736.9 697.2,736.9" fill="#8a5a44"/>
<path d="M713.6 717 A5.5 5.5 0 0 1 710.6 723.7 A5.5 5.5 0 0 1 702.9 727.2 A5.5 5.5 0 0 1 694.1 726 A5.5 5.5 0 0 1 688.4 720.6 A5.5 5.5 0 0 1 688.4 713.4 A5.5 5.5 0 0 1 694.1 708 A5.5 5.5 0 0 1 702.9 706.8 A5.5 5.5 0 0 1 710.6 710.3 A5.5 5.5 0 0 1 713.6 717 Z" fill="#7ac143"/>
<ellipse cx="698.6" cy="714.4" rx="7.8" ry="5.2" fill="#8ccc50"/>
</g>
<g>
<polygon points="732.1,722.2 736.3,722.2 737.6,736.9 730.8,736.9" fill="#8a5a44"/>
<path d="M747.2 717 A5.5 5.5 0 0 1 744.2 723.7 A5.5 5.5 0 0 1 736.5 727.2 A5.5 5.5 0 0 1 727.7 726 A5.5 5.5 0 0 1 722 720.6 A5.5 5.5 0 0 1 722 713.4 A5.5 5.5 0 0 1 727.7 708 A5.5 5.5 0 0 1 736.5 706.8 A5.5 5.5 0 0 1 744.2 710.3 A5.5 5.5 0 0 1 747.2 717 Z" fill="#7ac143"/>
<ellipse cx="732.2" cy="714.4" rx="7.8" ry="5.2" fill="#8ccc50"/>
</g>
</g>
<g id="ev">
<rect x="556.6" y="731.6" width="22.4" height="4.2" fill="#2a1f1a" rx="1"/>
<rect x="559" y="735" width="17.6" height="31" fill="#2a1f1a"/>
<rect x="560.6" y="738.3" width="14.4" height="10.8" fill="#c32026"/>
<rect x="562.3" y="741.2" width="11" height="5.2" fill="#7ecbe8"/>
<rect x="560.6" y="750.6" width="14.4" height="14.4" fill="#f29a1f"/>
<ellipse cx="568.6" cy="760.2" rx="2.2" ry="1.5" fill="#6a8a2a"/>
<rect x="554.8" y="765.4" width="26" height="3.8" fill="#2a1f1a" rx="1"/>
<path d="M577.5 757 C581 757 582 752 582.3 748 C582.5 743 582.5 740.5 585.5 738" fill="none" stroke="#2a1f1a" stroke-width="1.5"/>
<rect x="580.2" y="744" width="3.6" height="7" fill="#2f8fc0" rx="1"/>
<path d="M583.5 752 C586 745 600 741 610 743.2" fill="none" stroke="#9aa" stroke-width="1"/>
<polygon points="608,741.2 612.5,742.5 609,745.2" fill="#aaa"/>
<path d="M589 765.5 C587.5 762 588.5 757 593 755.5 L600 753 C605 748 612 746.8 619 747.3 C625 747.8 629 750.5 632.5 754.5 C636.5 755.5 639 757.5 638.8 761 L638.5 765.5 Z" fill="#1f8fc4"/>
<path d="M603 753.2 C606.5 749.8 610 748.8 613.3 748.8 L613.3 753.8 Z" fill="#8fd0ec"/>
<path d="M615.3 748.8 C620 748.8 625.5 750.5 628.8 754.3 L615.3 753.9 Z" fill="#8fd0ec"/>
<rect x="636.8" y="758.5" width="2.2" height="2.6" fill="#f5a623" rx="1"/>
<circle cx="600.9" cy="766" r="4.1" fill="#3a3a3a"/>
<circle cx="600.9" cy="766" r="1.9" fill="#d0d0d0"/>
<circle cx="629.2" cy="766" r="4.1" fill="#3a3a3a"/>
<circle cx="629.2" cy="766" r="1.9" fill="#d0d0d0"/>
</g>
<g id="offices">
<circle cx="189.5" cy="656.3" r="2.4" fill="#000"/>
<path d="M183.3 651.2 A8.6 8.6 0 0 1 195.7 651.2" fill="none" stroke="#000" stroke-width="2.4" stroke-linecap="round"/>
<path d="M179.6 647 A14 14 0 0 1 199.4 647" fill="none" stroke="#000" stroke-width="2.6" stroke-linecap="round"/>
<polygon points="220.8,681.4 252,666.3 269.2,677.4 247,690.5 247,714.7 234,722 213.7,712 213.7,690.5" fill="#0a0a0a"/>
<polygon points="220.8,681.4 252,666.3 269.2,677.4 238,693" fill="#2f3236"/>
<polygon points="247,690.5 269.2,677.4 269.2,702.6 247,714.7" fill="#6e4030"/>
<polygon points="250.8,691.8 253.9,689.9 253.9,694.5 250.8,696.4" fill="#5f8299"/>
<polygon points="257.1,688.1 260.2,686.2 260.2,690.8 257.1,692.7" fill="#5f8299"/>
<polygon points="263.4,684.3 266.5,682.5 266.5,687.1 263.4,688.9" fill="#5f8299"/>
<polygon points="250.8,699 253.9,697.1 253.9,701.7 250.8,703.6" fill="#5f8299"/>
<polygon points="257.1,695.3 260.2,693.4 260.2,698 257.1,699.9" fill="#5f8299"/>
<polygon points="263.4,691.5 266.5,689.7 266.5,694.3 263.4,696.1" fill="#5f8299"/>
<polygon points="250.8,706.2 253.9,704.3 253.9,708.9 250.8,710.8" fill="#5f8299"/>
<polygon points="257.1,702.5 260.2,700.6 260.2,705.2 257.1,707.1" fill="#5f8299"/>
<polygon points="263.4,698.7 266.5,696.9 266.5,701.5 263.4,703.3" fill="#5f8299"/>
<polygon points="137,670.3 184.5,692.5 184.5,726 137,709.6" fill="#0a0a0a"/>
<polygon points="184.5,692.5 211.7,682.4 211.7,712 184.5,726" fill="#8fa3b3"/>
<polygon points="184.5,698 211.7,687.9 211.7,691.1 184.5,701.2" fill="#3f7fae"/>
<polygon points="184.5,704.2 211.7,694.1 211.7,697.3 184.5,707.4" fill="#3f7fae"/>
<polygon points="184.5,710.4 211.7,700.3 211.7,703.5 184.5,713.6" fill="#3f7fae"/>
<polygon points="184.5,714.5 211.7,704.4 211.7,712 184.5,726" fill="#0a0a0a"/>
<polygon points="137,670.3 163.3,658.2 211.7,682.4 184.5,692.5" fill="#9c9c9c" stroke="#1a1a1a" stroke-width="0.8" stroke-linejoin="round"/>
<polygon points="137,672.3 184.5,694.9 211.7,684.6 211.7,686.4 184.5,696.9 137,674.3" fill="#e8e8e8"/>
<polygon points="141,669.8 163.5,659.8 207.5,682 185,690.3" fill="#b4b4b4"/>
<polygon points="143.3,679.2 147.7,681.1 147.7,685.3 143.3,683.4" fill="#f4f4f4"/>
<polygon points="143.3,685.3 147.7,687.2 147.7,691.4 143.3,689.5" fill="#f4f4f4"/>
<polygon points="143.3,691.4 147.7,693.3 147.7,697.5 143.3,695.6" fill="#f4f4f4"/>
<polygon points="143.3,697.5 147.7,699.4 147.7,703.6 143.3,701.7" fill="#f4f4f4"/>
<polygon points="143.3,703.6 147.7,705.5 147.7,709.7 143.3,707.8" fill="#f4f4f4"/>
<polygon points="156.5,685 160.9,686.9 160.9,691.1 156.5,689.2" fill="#f4f4f4"/>
<polygon points="156.5,691.1 160.9,693 160.9,697.2 156.5,695.3" fill="#f4f4f4"/>
<polygon points="156.5,697.2 160.9,699.1 160.9,703.3 156.5,701.4" fill="#f4f4f4"/>
<polygon points="156.5,703.3 160.9,705.2 160.9,709.4 156.5,707.5" fill="#f4f4f4"/>
<polygon points="156.5,709.4 160.9,711.3 160.9,715.5 156.5,713.6" fill="#f4f4f4"/>
<polygon points="161.3,709.6 176.4,716.7 176.4,733.5 161.3,726.5" fill="#0a0a0a"/>
<polygon points="176.4,716.7 188.5,710.6 188.5,727 176.4,733.5" fill="#6f94b0"/>
<polygon points="161.3,709.6 174.4,703.8 188.5,710.6 176.4,716.7" fill="#f2f2f2" stroke="#888" stroke-width="0.5" stroke-linejoin="round"/>
<rect x="173.6" y="724" width="1.6" height="9" fill="#999"/>
<polygon points="213.7,690.5 220.8,681.4 241,693.5 243,695.5 233.9,705 233.9,734 229,731 229,704" fill="#0a0a0a"/>
<polygon points="243,695.3 251,701 251,724.5 233.9,733.5 233.9,705" fill="#b5a68c" stroke="#3a342a" stroke-width="0.6" stroke-linejoin="round"/>
<polygon points="236.8,710 239.2,708.8 239.2,713.8 236.8,715" fill="#6a8ba2"/>
<polygon points="241.7,707.6 244.1,706.4 244.1,711.4 241.7,712.6" fill="#6a8ba2"/>
<polygon points="246.5,705.2 248.9,704 248.9,709 246.5,710.2" fill="#6a8ba2"/>
<polygon points="236.8,717.5 239.2,716.3 239.2,721.3 236.8,722.5" fill="#6a8ba2"/>
<polygon points="241.7,715.1 244.1,713.9 244.1,718.9 241.7,720.1" fill="#6a8ba2"/>
<polygon points="246.5,712.7 248.9,711.5 248.9,716.5 246.5,717.7" fill="#6a8ba2"/>
<rect x="236" y="726" width="2.4" height="6.5" fill="#111"/>
<rect x="241.2" y="723.3" width="2.4" height="6.5" fill="#111"/>
<rect x="246.4" y="720.6" width="2.4" height="6.5" fill="#111"/>
<polygon points="189.5,708.6 205.7,717.7 205.7,745 189.5,733" fill="#0a0a0a"/>
<polygon points="205.7,717.7 228.8,703.6 228.8,731 205.7,745" fill="#6e4030"/>
<polygon points="209.6,719.3 212.9,717.3 212.9,722.1 209.6,724.1" fill="#5f8299"/>
<polygon points="216.2,715.3 219.5,713.3 219.5,718.1 216.2,720.1" fill="#5f8299"/>
<polygon points="222.7,711.3 226,709.3 226,714.1 222.7,716.1" fill="#5f8299"/>
<polygon points="209.6,726.9 212.9,724.9 212.9,729.7 209.6,731.7" fill="#5f8299"/>
<polygon points="216.2,722.9 219.5,720.9 219.5,725.7 216.2,727.7" fill="#5f8299"/>
<polygon points="222.7,718.9 226,716.9 226,721.7 222.7,723.7" fill="#5f8299"/>
<polygon points="209.6,734.5 212.9,732.5 212.9,737.3 209.6,739.3" fill="#5f8299"/>
<polygon points="216.2,730.5 219.5,728.5 219.5,733.3 216.2,735.3" fill="#5f8299"/>
<polygon points="222.7,726.5 226,724.5 226,729.3 222.7,731.3" fill="#5f8299"/>
<polygon points="189.5,708.6 211.7,693.5 228.8,703.6 205.7,717.7" fill="#2f3236" stroke="#111" stroke-width="0.6" stroke-linejoin="round"/>
<g>
<rect x="149.6" y="719.8" width="2.4" height="9" fill="#6b4226" stroke="#222" stroke-width="0.5"/>
<line x1="146.3" y1="728.8" x2="155.3" y2="728.8" stroke="#333" stroke-width="0.9"/>
<path d="M150.8 706.6 L156.8 719.8 Q150.8 722.3 144.8 719.8 Z" fill="#12933a" stroke="#06200d" stroke-width="1.2" stroke-linejoin="round"/>
<path d="M150.8 709.6 L153.4 718.3 L149.8 718.3 Z" fill="#3cc25e"/>
</g>
<g>
<rect x="185.3" y="736.3" width="2.4" height="8.6" fill="#6b4226" stroke="#222" stroke-width="0.5"/>
<line x1="182" y1="744.9" x2="191" y2="744.9" stroke="#333" stroke-width="0.9"/>
<path d="M186.5 723.7 L192.5 736.3 Q186.5 738.8 180.5 736.3 Z" fill="#12933a" stroke="#06200d" stroke-width="1.2" stroke-linejoin="round"/>
<path d="M186.5 726.7 L189.1 734.8 L185.5 734.8 Z" fill="#3cc25e"/>
</g>
<g>
<rect x="227.6" y="739.3" width="2.4" height="8.6" fill="#6b4226" stroke="#222" stroke-width="0.5"/>
<line x1="224.3" y1="747.9" x2="233.3" y2="747.9" stroke="#333" stroke-width="0.9"/>
<path d="M228.8 726.8 L234.8 739.3 Q228.8 741.8 222.8 739.3 Z" fill="#12933a" stroke="#06200d" stroke-width="1.2" stroke-linejoin="round"/>
<path d="M228.8 729.8 L231.4 737.8 L227.8 737.8 Z" fill="#3cc25e"/>
</g>
<g>
<rect x="267.4" y="715.1" width="2.4" height="8.6" fill="#6b4226" stroke="#222" stroke-width="0.5"/>
<line x1="264.1" y1="723.7" x2="273.1" y2="723.7" stroke="#333" stroke-width="0.9"/>
<path d="M268.6 702.6 L274.6 715.1 Q268.6 717.6 262.6 715.1 Z" fill="#12933a" stroke="#06200d" stroke-width="1.2" stroke-linejoin="round"/>
<path d="M268.6 705.6 L271.2 713.6 L267.6 713.6 Z" fill="#3cc25e"/>
</g>
</g>
<g id="school">
<polygon points="346.9,729.3 418.6,770.5 418.6,793 346.9,749" fill="#2372a5"/>
<polygon points="418.6,770.5 449,755.3 449,776.8 418.6,793" fill="#1c5f8e"/>
<polygon points="346.9,729.3 377.3,713.2 449,755.3 418.6,770.5" fill="#2776ab" stroke="#3b88ba" stroke-width="0.6" stroke-linejoin="round"/>
<polygon points="373.5,741.5 397,729.5 423.5,744 400,756.5" fill="#2a7bb1" stroke="#3b88ba" stroke-width="0.6" stroke-linejoin="round"/>
<polygon points="373.5,741.5 400,756.5 400,760 373.5,745" fill="#2372a5"/>
<polygon points="400,756.5 423.5,744 423.5,747.5 400,760" fill="#1c5f8e"/>
<polygon points="349.8,733.6 353.2,735.5 353.2,741.1 349.8,739.2" fill="#e9f2f9"/>
<polygon points="354.6,736.4 358.1,738.3 358.1,743.9 354.6,742" fill="#e9f2f9"/>
<polygon points="359.5,739.1 362.9,741.1 362.9,746.7 359.5,744.7" fill="#e9f2f9"/>
<polygon points="364.4,741.9 367.8,743.9 367.8,749.5 364.4,747.5" fill="#e9f2f9"/>
<polygon points="369.2,744.7 372.6,746.7 372.6,752.3 369.2,750.3" fill="#e9f2f9"/>
<polygon points="374.1,747.5 377.5,749.5 377.5,755.1 374.1,753.1" fill="#e9f2f9"/>
<polygon points="379,750.3 382.4,752.3 382.4,757.9 379,755.9" fill="#e9f2f9"/>
<polygon points="383.8,753.1 387.2,755.1 387.2,760.7 383.8,758.7" fill="#e9f2f9"/>
<polygon points="388.7,755.9 392.1,757.9 392.1,763.5 388.7,761.5" fill="#e9f2f9"/>
<polygon points="393.6,758.7 397,760.7 397,766.3 393.6,764.3" fill="#e9f2f9"/>
<polygon points="398.4,761.5 401.8,763.5 401.8,769.1 398.4,767.1" fill="#e9f2f9"/>
<polygon points="403.3,764.3 406.7,766.3 406.7,771.9 403.3,769.9" fill="#e9f2f9"/>
<polygon points="408.2,767.1 411.6,769.1 411.6,774.7 408.2,772.7" fill="#e9f2f9"/>
<polygon points="413,769.9 416.4,771.9 416.4,777.5 413,775.5" fill="#e9f2f9"/>
<polygon points="349.8,741.8 353.2,743.7 353.2,749.3 349.8,747.4" fill="#e9f2f9"/>
<polygon points="354.6,744.6 358.1,746.5 358.1,752.1 354.6,750.2" fill="#e9f2f9"/>
<polygon points="359.5,747.3 362.9,749.3 362.9,754.9 359.5,752.9" fill="#e9f2f9"/>
<polygon points="364.4,750.1 367.8,752.1 367.8,757.7 364.4,755.7" fill="#e9f2f9"/>
<polygon points="369.2,752.9 372.6,754.9 372.6,760.5 369.2,758.5" fill="#e9f2f9"/>
<polygon points="374.1,755.7 377.5,757.7 377.5,763.3 374.1,761.3" fill="#e9f2f9"/>
<polygon points="379,758.5 382.4,760.5 382.4,766.1 379,764.1" fill="#e9f2f9"/>
<polygon points="383.8,761.3 387.2,763.3 387.2,768.9 383.8,766.9" fill="#e9f2f9"/>
<polygon points="388.7,764.1 392.1,766.1 392.1,771.7 388.7,769.7" fill="#e9f2f9"/>
<polygon points="393.6,766.9 397,768.9 397,774.5 393.6,772.5" fill="#e9f2f9"/>
<polygon points="398.4,769.7 401.8,771.7 401.8,777.3 398.4,775.3" fill="#e9f2f9"/>
<polygon points="403.3,772.5 406.7,774.5 406.7,780.1 403.3,778.1" fill="#e9f2f9"/>
<polygon points="408.2,775.3 411.6,777.3 411.6,782.9 408.2,780.9" fill="#e9f2f9"/>
<polygon points="413,778.1 416.4,780.1 416.4,785.7 413,783.7" fill="#e9f2f9"/>
<polygon points="372.7,742.6 392.1,753.8 392.1,777.8 372.7,765.6" fill="#2372a5"/>
<polygon points="374.2,745.9 377.4,747.7 377.4,753.1 374.2,751.3" fill="#e9f2f9"/>
<polygon points="378.7,748.5 381.9,750.3 381.9,755.7 378.7,753.9" fill="#e9f2f9"/>
<polygon points="383.3,751.1 386.5,752.9 386.5,758.3 383.3,756.5" fill="#e9f2f9"/>
<polygon points="387.8,753.7 391,755.5 391,760.9 387.8,759.1" fill="#e9f2f9"/>
<polygon points="374.2,753.3 377.4,755.1 377.4,760.5 374.2,758.7" fill="#e9f2f9"/>
<polygon points="378.7,755.9 381.9,757.7 381.9,763.1 378.7,761.3" fill="#e9f2f9"/>
<polygon points="383.3,758.5 386.5,760.3 386.5,765.7 383.3,763.9" fill="#e9f2f9"/>
<polygon points="387.8,761.1 391,762.9 391,768.3 387.8,766.5" fill="#e9f2f9"/>
<polygon points="374.2,760.7 377.4,762.5 377.4,767.9 374.2,766.1" fill="#e9f2f9"/>
<polygon points="378.7,763.3 381.9,765.1 381.9,770.5 378.7,768.7" fill="#e9f2f9"/>
<polygon points="383.3,765.9 386.5,767.7 386.5,773.1 383.3,771.3" fill="#e9f2f9"/>
<polygon points="387.8,768.5 391,770.3 391,775.7 387.8,773.9" fill="#e9f2f9"/>
<polygon points="379.5,761 384.5,763.8 384.5,772.5 379.5,769.7" fill="#e9f2f9"/>
<polygon points="384.5,734.5 395,729.5 409.6,736.5 409.6,741 398.5,746.5 384.5,739" fill="#1f6899"/>
<polygon points="384.5,734.5 395,729.5 409.6,736.5 398.5,741.8" fill="#2a7bb1"/>
<polygon points="389.2,701.5 399,706 399,740 389.2,735.5" fill="#2372a5"/>
<polygon points="399,706 406.3,702.5 406.3,736.3 399,740" fill="#1a5a88"/>
<polygon points="389.2,701.5 394.5,692.5 401,690.5 406.3,702.5 399,706" fill="#2a7bb1"/>
<polygon points="401,690.5 406.3,702.5 399,706 397,694" fill="#1f6899"/>
<circle cx="393.8" cy="710.5" r="2.5" fill="#9fb4c4" stroke="#c8d6e0" stroke-width="0.6"/>
<line x1="399" y1="721.5" x2="406.3" y2="718" stroke="#3b88ba" stroke-width="0.6"/>
<g>
<polygon points="344.4,753.1 345.6,753.1 346.1,761.9 343.9,761.9" fill="#5a3a26" stroke="#111" stroke-width="0.5" stroke-linejoin="round"/>
<line x1="341.6" y1="761.9" x2="348.4" y2="761.9" stroke="#333" stroke-width="0.9"/>
<path d="M349.9 751.3 A2.1 2.1 0 0 1 348.8 753.6 A2.1 2.1 0 0 1 345.9 754.9 A2.1 2.1 0 0 1 342.6 754.4 A2.1 2.1 0 0 1 340.4 752.5 A2.1 2.1 0 0 1 340.4 750.1 A2.1 2.1 0 0 1 342.6 748.2 A2.1 2.1 0 0 1 345.9 747.7 A2.1 2.1 0 0 1 348.8 749 A2.1 2.1 0 0 1 349.9 751.3 Z" fill="#39b54a" stroke="#111" stroke-width="0.9"/>
</g>
<g>
<polygon points="354.9,759.3 356.1,759.3 356.6,768.1 354.4,768.1" fill="#5a3a26" stroke="#111" stroke-width="0.5" stroke-linejoin="round"/>
<line x1="352.1" y1="768.1" x2="358.9" y2="768.1" stroke="#333" stroke-width="0.9"/>
<path d="M360.4 757.5 A2.1 2.1 0 0 1 359.3 759.8 A2.1 2.1 0 0 1 356.4 761.1 A2.1 2.1 0 0 1 353.1 760.6 A2.1 2.1 0 0 1 350.9 758.7 A2.1 2.1 0 0 1 350.9 756.3 A2.1 2.1 0 0 1 353.1 754.4 A2.1 2.1 0 0 1 356.4 753.9 A2.1 2.1 0 0 1 359.3 755.2 A2.1 2.1 0 0 1 360.4 757.5 Z" fill="#39b54a" stroke="#111" stroke-width="0.9"/>
</g>
<g>
<polygon points="364.2,764.3 365.4,764.3 365.9,773.1 363.7,773.1" fill="#5a3a26" stroke="#111" stroke-width="0.5" stroke-linejoin="round"/>
<line x1="361.4" y1="773.1" x2="368.2" y2="773.1" stroke="#333" stroke-width="0.9"/>
<path d="M369.7 762.5 A2.1 2.1 0 0 1 368.6 764.8 A2.1 2.1 0 0 1 365.7 766.1 A2.1 2.1 0 0 1 362.4 765.6 A2.1 2.1 0 0 1 360.2 763.7 A2.1 2.1 0 0 1 360.2 761.3 A2.1 2.1 0 0 1 362.4 759.4 A2.1 2.1 0 0 1 365.7 758.9 A2.1 2.1 0 0 1 368.6 760.2 A2.1 2.1 0 0 1 369.7 762.5 Z" fill="#39b54a" stroke="#111" stroke-width="0.9"/>
</g>
<g>
<polygon points="385.7,778.3 386.9,778.3 387.4,787.1 385.2,787.1" fill="#5a3a26" stroke="#111" stroke-width="0.5" stroke-linejoin="round"/>
<line x1="382.9" y1="787.1" x2="389.7" y2="787.1" stroke="#333" stroke-width="0.9"/>
<path d="M391.2 776.5 A2.1 2.1 0 0 1 390.1 778.8 A2.1 2.1 0 0 1 387.2 780.1 A2.1 2.1 0 0 1 383.9 779.6 A2.1 2.1 0 0 1 381.7 777.7 A2.1 2.1 0 0 1 381.7 775.3 A2.1 2.1 0 0 1 383.9 773.4 A2.1 2.1 0 0 1 387.2 772.9 A2.1 2.1 0 0 1 390.1 774.2 A2.1 2.1 0 0 1 391.2 776.5 Z" fill="#39b54a" stroke="#111" stroke-width="0.9"/>
</g>
<g>
<polygon points="397.4,785 398.6,785 399.1,793.8 396.9,793.8" fill="#5a3a26" stroke="#111" stroke-width="0.5" stroke-linejoin="round"/>
<line x1="394.6" y1="793.8" x2="401.4" y2="793.8" stroke="#333" stroke-width="0.9"/>
<path d="M402.9 783.2 A2.1 2.1 0 0 1 401.8 785.5 A2.1 2.1 0 0 1 398.9 786.8 A2.1 2.1 0 0 1 395.6 786.3 A2.1 2.1 0 0 1 393.4 784.4 A2.1 2.1 0 0 1 393.4 782 A2.1 2.1 0 0 1 395.6 780.1 A2.1 2.1 0 0 1 398.9 779.6 A2.1 2.1 0 0 1 401.8 780.9 A2.1 2.1 0 0 1 402.9 783.2 Z" fill="#39b54a" stroke="#111" stroke-width="0.9"/>
</g>
<g>
<polygon points="408.6,790.8 409.8,790.8 410.3,799.6 408.1,799.6" fill="#5a3a26" stroke="#111" stroke-width="0.5" stroke-linejoin="round"/>
<line x1="405.8" y1="799.6" x2="412.6" y2="799.6" stroke="#333" stroke-width="0.9"/>
<path d="M414.1 789 A2.1 2.1 0 0 1 413 791.3 A2.1 2.1 0 0 1 410.1 792.6 A2.1 2.1 0 0 1 406.8 792.1 A2.1 2.1 0 0 1 404.6 790.2 A2.1 2.1 0 0 1 404.6 787.8 A2.1 2.1 0 0 1 406.8 785.9 A2.1 2.1 0 0 1 410.1 785.4 A2.1 2.1 0 0 1 413 786.7 A2.1 2.1 0 0 1 414.1 789 Z" fill="#39b54a" stroke="#111" stroke-width="0.9"/>
</g>
</g>
<g>
<polygon points="385.7,593.4 422.4,613.8 422.4,657 385.7,636" fill="#5b6b7e"/>
<polygon points="422.4,613.8 459.8,592.8 459.8,636 422.4,657" fill="#4a5868"/>
<polygon points="422.4,572.1 459.8,592.8 422.4,613.8 385.7,593.4" fill="#66768b"/>
<path d="M385.7 593.4 L422.4 613.8 L459.8 592.8 M422.4 613.8 L422.4 657" fill="none" stroke="#eef1f4" stroke-width="1.5"/>
<polygon points="422.4,572.1 459.8,592.8 459.8,636 422.4,657 385.7,636 385.7,593.4" fill="none" stroke="#20262d" stroke-width="1.3" stroke-linejoin="round"/>
<line x1="391.6" y1="605.2" x2="417.2" y2="618.3" stroke="#ffffff" stroke-width="1.5"/>
<line x1="427.7" y1="618.3" x2="453.3" y2="605.2" stroke="#ffffff" stroke-width="1.5"/>
<line x1="391.6" y1="608.1" x2="417.2" y2="621.2" stroke="#ffffff" stroke-width="1.5"/>
<line x1="427.7" y1="621.2" x2="453.3" y2="608.1" stroke="#ffffff" stroke-width="1.5"/>
<line x1="391.6" y1="611" x2="417.2" y2="624.1" stroke="#ffffff" stroke-width="1.5"/>
<line x1="427.7" y1="624.1" x2="453.3" y2="611" stroke="#ffffff" stroke-width="1.5"/>
<line x1="391.6" y1="613.9" x2="417.2" y2="627" stroke="#ffffff" stroke-width="1.5"/>
<line x1="427.7" y1="627" x2="453.3" y2="613.9" stroke="#ffffff" stroke-width="1.5"/>
</g>
<g>
<circle cx="421.8" cy="593.4" r="10.7" fill="#f2c40f" stroke="#77704a" stroke-width="1.1"/>
<path d="M428.5 581.6 A12.7 12.7 0 0 1 435 592.3" fill="none" stroke="#8d9399" stroke-width="1.4" stroke-dasharray="3.4 2"/>
<path d="M413 602.1 L417.1 605.3" fill="none" stroke="#8d9399" stroke-width="1.2"/>
<polygon points="422.8,579.1 427.5,579.1 424.3,589.2 428.9,589.7 415.5,607.7 422,593.3 417,592.7" fill="#e6e6e6" stroke="#6d7175" stroke-width="1.4" stroke-linejoin="round"/>
</g>
<g id="labels">
<text x="131.5" y="532" font-size="14" text-anchor="middle">FACTORIES</text>
<text x="331.8" y="512.6" font-size="14" text-anchor="middle">HOUSES</text>
<text x="509.5" y="492.8" font-size="14" text-anchor="middle">HOTEL</text>
<text x="737.7" y="552.9" font-size="14" text-anchor="middle">RESTAURANT</text>
<text x="195.6" y="774.4" font-size="14" text-anchor="middle">CITIES AND OFFICES</text>
<text x="397" y="827" font-size="14" text-anchor="middle">SCHOOL</text>
<text x="621.7" y="803" font-size="14" text-anchor="middle">ELECTRIC VEHICLE</text>
<text x="427.2" y="672.6" font-size="14" text-anchor="middle" font-style="italic">CONTROL CENTER</text>
</g>
</g>
</svg>
</body>
</html>
